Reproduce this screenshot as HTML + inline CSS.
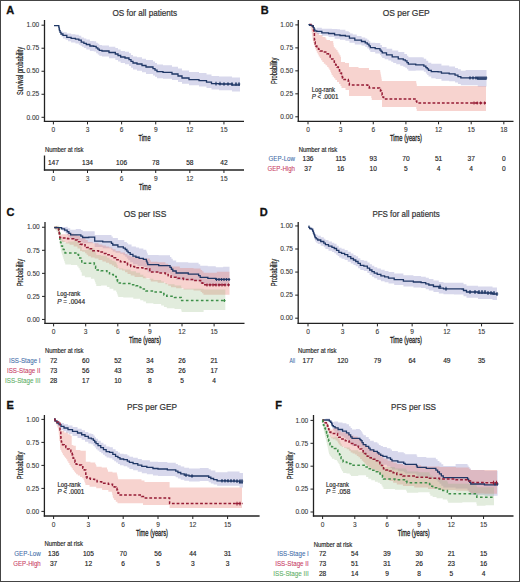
<!DOCTYPE html>
<html><head><meta charset="utf-8"><style>
html,body{margin:0;padding:0;background:#fff;}
.wrap{position:relative;width:520px;height:582px;overflow:hidden;background:#fff;}
svg text{font-family:"Liberation Sans", sans-serif;}
.frame{position:absolute;left:0;top:0;width:518px;height:580px;border:1px solid #444;}
</style></head><body><div class="wrap">
<svg width="520" height="582" viewBox="0 0 520 582" style="position:absolute;left:0;top:0">
<text x="6.30" y="14.40" font-size="11" text-anchor="start" fill="#111" stroke="#111" stroke-width="0.3" font-weight="bold">A</text>
<text x="112.40" y="15.80" font-size="9.3" text-anchor="start" fill="#333" stroke="#333" stroke-width="0.22" textLength="64.8" lengthAdjust="spacingAndGlyphs">OS for all patients</text>
<path d="M54.00,25.60 L58.70,25.60 L58.70,25.80 L58.93,25.80 L58.93,27.71 L59.38,27.71 L59.38,29.62 L59.60,29.62 L60.55,29.62 L60.55,31.42 L61.50,31.42 L62.95,31.42 L62.95,32.33 L64.40,32.33 L66.80,32.33 L66.80,33.43 L69.20,33.43 L71.10,33.43 L71.10,34.15 L73.00,34.15 L75.45,34.15 L75.45,34.80 L77.90,34.80 L78.85,34.80 L78.85,35.71 L79.80,35.71 L81.25,35.71 L81.25,37.47 L82.70,37.47 L83.90,37.47 L83.90,38.55 L86.30,38.55 L86.30,39.62 L87.50,39.62 L89.90,39.62 L89.90,40.92 L92.30,40.92 L93.75,40.92 L93.75,41.23 L95.20,41.23 L96.15,41.23 L96.15,42.66 L97.10,42.66 L97.82,42.66 L97.82,43.81 L99.28,43.81 L99.28,44.97 L100.00,44.97 L102.00,44.97 L102.00,45.53 L104.00,45.53 L109.00,45.53 L109.00,46.70 L114.00,46.70 L115.33,46.70 L115.33,48.11 L118.00,48.11 L118.00,49.52 L120.67,49.52 L120.67,50.93 L122.00,50.93 L125.00,50.93 L125.00,51.73 L128.00,51.73 L129.00,51.73 L129.00,53.33 L131.00,53.33 L131.00,54.93 L133.00,54.93 L133.00,56.53 L134.00,56.53 L137.00,56.53 L137.00,57.33 L140.00,57.33 L142.00,57.33 L142.00,58.70 L146.00,58.70 L146.00,60.07 L148.00,60.07 L152.00,60.07 L152.00,59.98 L153.00,59.98 L153.00,61.48 L155.00,61.48 L155.00,62.99 L157.00,62.99 L157.00,64.50 L158.00,64.50 L163.00,64.50 L163.00,65.18 L168.00,65.18 L172.00,65.18 L172.00,66.67 L176.00,66.67 L178.00,66.67 L178.00,68.62 L182.00,68.62 L182.00,70.58 L184.00,70.58 L189.00,70.58 L189.00,72.10 L194.00,72.10 L199.00,72.10 L199.00,73.10 L204.00,73.10 L206.50,73.10 L206.50,74.60 L211.50,74.60 L211.50,76.10 L214.00,76.10 L219.00,76.10 L219.00,76.50 L224.00,76.50 L232.00,76.50 L232.00,77.50 L240.00,77.50 L240.00,91.50 L232.00,91.50 L232.00,90.18 L224.00,90.18 L219.00,90.18 L219.00,89.58 L214.00,89.58 L211.50,89.58 L211.50,87.98 L206.50,87.98 L206.50,86.38 L204.00,86.38 L199.00,86.38 L199.00,85.18 L194.00,85.18 L189.00,85.18 L189.00,83.72 L184.00,83.72 L182.00,83.72 L182.00,81.88 L178.00,81.88 L178.00,80.03 L176.00,80.03 L172.00,80.03 L172.00,78.73 L168.00,78.73 L163.00,78.73 L163.00,78.30 L158.00,78.30 L157.00,78.30 L157.00,76.84 L155.00,76.84 L155.00,75.38 L153.00,75.38 L153.00,73.92 L152.00,73.92 L152.00,73.93 L148.00,73.93 L146.00,73.93 L146.00,72.30 L142.00,72.30 L142.00,70.67 L140.00,70.67 L137.00,70.67 L137.00,69.47 L134.00,69.47 L133.00,69.47 L133.00,67.73 L131.00,67.73 L131.00,66.00 L129.00,66.00 L129.00,64.27 L128.00,64.27 L125.00,64.27 L125.00,63.07 L122.00,63.07 L120.67,63.07 L120.67,61.48 L118.00,61.48 L118.00,59.89 L115.33,59.89 L115.33,58.30 L114.00,58.30 L109.00,58.30 L109.00,56.47 L104.00,56.47 L102.00,56.47 L102.00,55.63 L100.00,55.63 L99.28,55.63 L99.28,54.38 L97.82,54.38 L97.82,53.14 L97.10,53.14 L96.15,53.14 L96.15,51.57 L95.20,51.57 L93.75,51.57 L93.75,51.08 L92.30,51.08 L89.90,51.08 L89.90,49.38 L87.50,49.38 L86.30,49.38 L86.30,48.05 L83.90,48.05 L83.90,46.73 L82.70,46.73 L81.97,46.73 L81.97,45.71 L80.53,45.71 L80.53,44.69 L79.80,44.69 L78.85,44.69 L78.85,43.60 L77.90,43.60 L75.45,43.60 L75.45,42.45 L73.00,42.45 L71.10,42.45 L71.10,41.17 L69.20,41.17 L68.00,41.17 L68.00,39.82 L65.60,39.82 L65.60,38.47 L64.40,38.47 L62.95,38.47 L62.95,36.58 L61.50,36.58 L61.18,36.58 L61.18,34.91 L60.55,34.91 L60.55,33.25 L59.92,33.25 L59.92,31.58 L59.60,31.58 L59.45,31.58 L59.45,29.65 L59.15,29.65 L59.15,27.73 L58.85,27.73 L58.85,25.80 L58.70,25.80 L58.70,25.60 L54.00,25.60Z" fill="#6464b4" fill-opacity="0.25" stroke="none"/>
<path d="M54.00,25.60 L58.70,25.60 L58.70,25.80 L58.85,25.80 L58.85,27.40 L59.15,27.40 L59.15,29.00 L59.45,29.00 L59.45,30.60 L59.60,30.60 L60.08,30.60 L60.08,32.30 L61.02,32.30 L61.02,34.00 L61.50,34.00 L62.95,34.00 L62.95,35.40 L64.40,35.40 L66.80,35.40 L66.80,37.30 L69.20,37.30 L71.10,37.30 L71.10,38.30 L73.00,38.30 L75.45,38.30 L75.45,39.20 L77.90,39.20 L78.85,39.20 L78.85,40.20 L79.80,40.20 L81.25,40.20 L81.25,42.10 L82.70,42.10 L83.90,42.10 L83.90,43.30 L86.30,43.30 L86.30,44.50 L87.50,44.50 L89.90,44.50 L89.90,46.00 L92.30,46.00 L93.75,46.00 L93.75,46.40 L95.20,46.40 L96.15,46.40 L96.15,47.90 L97.10,47.90 L97.82,47.90 L97.82,49.10 L99.28,49.10 L99.28,50.30 L100.00,50.30 L102.00,50.30 L102.00,51.00 L104.00,51.00 L109.00,51.00 L109.00,52.50 L114.00,52.50 L115.33,52.50 L115.33,54.00 L118.00,54.00 L118.00,55.50 L120.67,55.50 L120.67,57.00 L122.00,57.00 L125.00,57.00 L125.00,58.00 L128.00,58.00 L129.00,58.00 L129.00,59.67 L131.00,59.67 L131.00,61.33 L133.00,61.33 L133.00,63.00 L134.00,63.00 L137.00,63.00 L137.00,64.00 L140.00,64.00 L142.00,64.00 L142.00,65.50 L146.00,65.50 L146.00,67.00 L148.00,67.00 L152.00,67.00 L152.00,67.00 L153.00,67.00 L153.00,68.53 L155.00,68.53 L155.00,70.07 L157.00,70.07 L157.00,71.60 L158.00,71.60 L163.00,71.60 L163.00,72.40 L168.00,72.40 L172.00,72.40 L172.00,74.00 L176.00,74.00 L178.00,74.00 L178.00,76.00 L182.00,76.00 L182.00,78.00 L184.00,78.00 L189.00,78.00 L189.00,79.60 L194.00,79.60 L199.00,79.60 L199.00,80.60 L204.00,80.60 L206.50,80.60 L206.50,82.10 L211.50,82.10 L211.50,83.60 L214.00,83.60 L219.00,83.60 L219.00,84.00 L224.00,84.00 L232.00,84.00 L232.00,85.00 L240.00,85.00" fill="none" stroke="#1f3766" stroke-width="1.3" stroke-linejoin="miter"/>
<line x1="216.00" y1="81.80" x2="216.00" y2="85.40" stroke="#1f3766" stroke-width="1.1"/>
<line x1="214.80" y1="83.60" x2="217.20" y2="83.60" stroke="#1f3766" stroke-width="1.1"/>
<line x1="220.00" y1="81.80" x2="220.00" y2="85.40" stroke="#1f3766" stroke-width="1.1"/>
<line x1="218.80" y1="83.60" x2="221.20" y2="83.60" stroke="#1f3766" stroke-width="1.1"/>
<line x1="224.00" y1="82.20" x2="224.00" y2="85.80" stroke="#1f3766" stroke-width="1.1"/>
<line x1="222.80" y1="84.00" x2="225.20" y2="84.00" stroke="#1f3766" stroke-width="1.1"/>
<line x1="228.00" y1="82.20" x2="228.00" y2="85.80" stroke="#1f3766" stroke-width="1.1"/>
<line x1="226.80" y1="84.00" x2="229.20" y2="84.00" stroke="#1f3766" stroke-width="1.1"/>
<line x1="232.00" y1="82.20" x2="232.00" y2="85.80" stroke="#1f3766" stroke-width="1.1"/>
<line x1="230.80" y1="84.00" x2="233.20" y2="84.00" stroke="#1f3766" stroke-width="1.1"/>
<line x1="236.00" y1="82.20" x2="236.00" y2="85.80" stroke="#1f3766" stroke-width="1.1"/>
<line x1="234.80" y1="84.00" x2="237.20" y2="84.00" stroke="#1f3766" stroke-width="1.1"/>
<line x1="239.00" y1="82.20" x2="239.00" y2="85.80" stroke="#1f3766" stroke-width="1.1"/>
<line x1="237.80" y1="84.00" x2="240.20" y2="84.00" stroke="#1f3766" stroke-width="1.1"/>
<line x1="44.50" y1="20.00" x2="44.50" y2="122.00" stroke="#222" stroke-width="1.3"/>
<line x1="43.90" y1="121.40" x2="244.00" y2="121.40" stroke="#222" stroke-width="1.3"/>
<line x1="41.50" y1="25.20" x2="44.50" y2="25.20" stroke="#222" stroke-width="1.0"/>
<text x="39.30" y="27.40" font-size="6.6" text-anchor="end" fill="#333" stroke="#333" stroke-width="0.08">1.00</text>
<line x1="41.50" y1="48.22" x2="44.50" y2="48.22" stroke="#222" stroke-width="1.0"/>
<text x="39.30" y="50.42" font-size="6.6" text-anchor="end" fill="#333" stroke="#333" stroke-width="0.08">0.75</text>
<line x1="41.50" y1="71.25" x2="44.50" y2="71.25" stroke="#222" stroke-width="1.0"/>
<text x="39.30" y="73.45" font-size="6.6" text-anchor="end" fill="#333" stroke="#333" stroke-width="0.08">0.50</text>
<line x1="41.50" y1="94.27" x2="44.50" y2="94.27" stroke="#222" stroke-width="1.0"/>
<text x="39.30" y="96.47" font-size="6.6" text-anchor="end" fill="#333" stroke="#333" stroke-width="0.08">0.25</text>
<line x1="41.50" y1="117.30" x2="44.50" y2="117.30" stroke="#222" stroke-width="1.0"/>
<text x="39.30" y="119.50" font-size="6.6" text-anchor="end" fill="#333" stroke="#333" stroke-width="0.08">0.00</text>
<line x1="53.40" y1="121.40" x2="53.40" y2="124.40" stroke="#222" stroke-width="1.0"/>
<text x="53.40" y="132.10" font-size="6.6" text-anchor="middle" fill="#333" stroke="#333" stroke-width="0.08">0</text>
<line x1="87.51" y1="121.40" x2="87.51" y2="124.40" stroke="#222" stroke-width="1.0"/>
<text x="87.51" y="132.10" font-size="6.6" text-anchor="middle" fill="#333" stroke="#333" stroke-width="0.08">3</text>
<line x1="121.62" y1="121.40" x2="121.62" y2="124.40" stroke="#222" stroke-width="1.0"/>
<text x="121.62" y="132.10" font-size="6.6" text-anchor="middle" fill="#333" stroke="#333" stroke-width="0.08">6</text>
<line x1="155.73" y1="121.40" x2="155.73" y2="124.40" stroke="#222" stroke-width="1.0"/>
<text x="155.73" y="132.10" font-size="6.6" text-anchor="middle" fill="#333" stroke="#333" stroke-width="0.08">9</text>
<line x1="189.84" y1="121.40" x2="189.84" y2="124.40" stroke="#222" stroke-width="1.0"/>
<text x="189.84" y="132.10" font-size="6.6" text-anchor="middle" fill="#333" stroke="#333" stroke-width="0.08">12</text>
<line x1="223.95" y1="121.40" x2="223.95" y2="124.40" stroke="#222" stroke-width="1.0"/>
<text x="223.95" y="132.10" font-size="6.6" text-anchor="middle" fill="#333" stroke="#333" stroke-width="0.08">15</text>
<text x="22.80" y="71.00" font-size="8.3" text-anchor="middle" fill="#1a1a1a" stroke="#1a1a1a" stroke-width="0.2" textLength="48" lengthAdjust="spacingAndGlyphs" transform="rotate(-90 22.80 71.00)">Survival probability</text>
<text x="144.50" y="141.00" font-size="9.2" text-anchor="middle" fill="#1a1a1a" stroke="#1a1a1a" stroke-width="0.3" textLength="12" lengthAdjust="spacingAndGlyphs">Time</text>
<text x="45.00" y="151.60" font-size="6.6" text-anchor="start" fill="#2a2a2a" stroke="#2a2a2a" stroke-width="0.18" textLength="38.5" lengthAdjust="spacingAndGlyphs">Number at risk</text>
<line x1="44.50" y1="155.50" x2="44.50" y2="170.60" stroke="#222" stroke-width="1.3"/>
<line x1="43.90" y1="170.00" x2="244.00" y2="170.00" stroke="#222" stroke-width="1.3"/>
<text x="53.40" y="165.00" font-size="6.6" text-anchor="middle" fill="#222" stroke="#222" stroke-width="0.15">147</text>
<line x1="53.40" y1="170.00" x2="53.40" y2="173.00" stroke="#222" stroke-width="1.0"/>
<text x="53.40" y="181.20" font-size="6.6" text-anchor="middle" fill="#333" stroke="#333" stroke-width="0.08">0</text>
<text x="87.51" y="165.00" font-size="6.6" text-anchor="middle" fill="#222" stroke="#222" stroke-width="0.15">134</text>
<line x1="87.51" y1="170.00" x2="87.51" y2="173.00" stroke="#222" stroke-width="1.0"/>
<text x="87.51" y="181.20" font-size="6.6" text-anchor="middle" fill="#333" stroke="#333" stroke-width="0.08">3</text>
<text x="121.62" y="165.00" font-size="6.6" text-anchor="middle" fill="#222" stroke="#222" stroke-width="0.15">106</text>
<line x1="121.62" y1="170.00" x2="121.62" y2="173.00" stroke="#222" stroke-width="1.0"/>
<text x="121.62" y="181.20" font-size="6.6" text-anchor="middle" fill="#333" stroke="#333" stroke-width="0.08">6</text>
<text x="155.73" y="165.00" font-size="6.6" text-anchor="middle" fill="#222" stroke="#222" stroke-width="0.15">78</text>
<line x1="155.73" y1="170.00" x2="155.73" y2="173.00" stroke="#222" stroke-width="1.0"/>
<text x="155.73" y="181.20" font-size="6.6" text-anchor="middle" fill="#333" stroke="#333" stroke-width="0.08">9</text>
<text x="189.84" y="165.00" font-size="6.6" text-anchor="middle" fill="#222" stroke="#222" stroke-width="0.15">58</text>
<line x1="189.84" y1="170.00" x2="189.84" y2="173.00" stroke="#222" stroke-width="1.0"/>
<text x="189.84" y="181.20" font-size="6.6" text-anchor="middle" fill="#333" stroke="#333" stroke-width="0.08">12</text>
<text x="223.95" y="165.00" font-size="6.6" text-anchor="middle" fill="#222" stroke="#222" stroke-width="0.15">42</text>
<line x1="223.95" y1="170.00" x2="223.95" y2="173.00" stroke="#222" stroke-width="1.0"/>
<text x="223.95" y="181.20" font-size="6.6" text-anchor="middle" fill="#333" stroke="#333" stroke-width="0.08">15</text>
<text x="145.00" y="189.50" font-size="9.2" text-anchor="middle" fill="#1a1a1a" stroke="#1a1a1a" stroke-width="0.3" textLength="12" lengthAdjust="spacingAndGlyphs">Time</text>
<text x="260.80" y="14.40" font-size="11" text-anchor="start" fill="#111" stroke="#111" stroke-width="0.3" font-weight="bold">B</text>
<text x="382.70" y="15.80" font-size="9.3" text-anchor="start" fill="#333" stroke="#333" stroke-width="0.22" textLength="47" lengthAdjust="spacingAndGlyphs">OS per GEP</text>
<path d="M309.00,24.40 L310.25,24.40 L310.25,26.20 L312.75,26.20 L312.75,28.00 L314.00,28.00 L314.50,28.00 L314.50,29.50 L315.50,29.50 L315.50,31.00 L316.00,31.00 L317.00,31.00 L317.00,33.00 L319.00,33.00 L319.00,35.00 L320.00,35.00 L322.50,35.00 L322.50,37.00 L325.00,37.00 L325.50,37.00 L325.50,38.50 L326.50,38.50 L326.50,40.00 L327.00,40.00 L330.00,40.00 L330.00,41.00 L333.00,41.00 L333.17,41.00 L333.17,43.00 L333.50,43.00 L333.50,45.00 L333.83,45.00 L333.83,47.00 L334.00,47.00 L334.75,47.00 L334.75,48.50 L336.25,48.50 L336.25,50.00 L337.00,50.00 L337.50,50.00 L337.50,51.75 L338.50,51.75 L338.50,53.50 L339.50,53.50 L339.50,55.25 L340.50,55.25 L340.50,57.00 L341.00,57.00 L341.00,57.00 L341.00,62.00 L345.00,62.00 L345.00,63.00 L349.00,63.00 L349.00,63.00 L349.00,67.00 L358.50,67.00 L358.50,68.00 L368.00,68.00 L369.00,68.00 L369.00,70.00 L370.00,70.00 L380.00,70.00 L380.00,70.00 L380.17,70.00 L380.17,71.83 L380.50,71.83 L380.50,73.67 L380.83,73.67 L380.83,75.50 L381.17,75.50 L381.17,77.33 L381.50,77.33 L381.50,79.17 L381.83,79.17 L381.83,81.00 L382.00,81.00 L416.00,81.00 L416.00,81.00 L416.17,81.00 L416.17,82.67 L416.50,82.67 L416.50,84.33 L416.83,84.33 L416.83,86.00 L417.00,86.00 L486.00,86.00 L486.00,86.00 L486.00,111.00 L486.00,111.00 L417.00,111.00 L416.75,111.00 L416.75,109.00 L416.25,109.00 L416.25,107.00 L416.00,107.00 L416.00,107.00 L382.00,107.00 L382.00,100.00 L382.00,100.00 L382.00,100.00 L372.00,100.00 L371.75,100.00 L371.75,98.00 L371.25,98.00 L371.25,96.00 L371.00,96.00 L371.00,96.00 L349.00,96.00 L349.00,90.00 L349.00,90.00 L345.50,90.00 L345.50,88.00 L342.00,88.00 L341.50,88.00 L341.50,86.00 L340.50,86.00 L340.50,84.00 L340.00,84.00 L339.00,84.00 L339.00,82.00 L337.00,82.00 L337.00,80.00 L336.00,80.00 L335.33,80.00 L335.33,78.33 L334.00,78.33 L334.00,76.67 L332.67,76.67 L332.67,75.00 L332.00,75.00 L331.67,75.00 L331.67,73.33 L331.00,73.33 L331.00,71.67 L330.33,71.67 L330.33,70.00 L330.00,70.00 L329.50,70.00 L329.50,68.50 L328.50,68.50 L328.50,67.00 L328.00,67.00 L327.17,67.00 L327.17,65.33 L325.50,65.33 L325.50,63.67 L323.83,63.67 L323.83,62.00 L323.00,62.00 L322.37,62.00 L322.37,60.17 L321.10,60.17 L321.10,58.33 L319.83,58.33 L319.83,56.50 L319.20,56.50 L318.72,56.50 L318.72,54.58 L317.77,54.58 L317.77,52.65 L316.82,52.65 L316.82,50.72 L315.88,50.72 L315.88,48.80 L315.40,48.80 L315.10,48.80 L315.10,46.85 L314.50,46.85 L314.50,44.90 L313.90,44.90 L313.90,42.95 L313.30,42.95 L313.30,41.00 L313.00,41.00 L312.88,41.00 L312.88,39.25 L312.62,39.25 L312.62,37.50 L312.38,37.50 L312.38,35.75 L312.12,35.75 L312.12,34.00 L312.00,34.00 L311.83,34.00 L311.83,32.00 L311.50,32.00 L311.50,30.00 L311.17,30.00 L311.17,28.00 L311.00,28.00 L310.50,28.00 L310.50,26.20 L309.50,26.20 L309.50,24.40 L309.00,24.40Z" fill="#e8786e" fill-opacity="0.33" stroke="none"/>
<path d="M308.40,24.70 L311.00,24.70 L311.00,24.83 L313.00,24.83 L313.00,25.00 L313.52,25.00 L313.52,26.87 L314.58,26.87 L314.58,28.75 L315.10,28.75 L316.80,28.75 L316.80,27.86 L318.50,27.86 L321.85,27.86 L321.85,28.79 L325.20,28.79 L331.90,28.79 L331.90,29.01 L337.30,29.01 L337.30,29.31 L340.00,29.31 L340.00,29.84 L342.70,29.84 L345.40,29.84 L345.40,31.21 L348.10,31.21 L348.78,31.21 L348.78,32.29 L350.12,32.29 L350.12,33.38 L350.80,33.38 L352.80,33.38 L352.80,34.62 L356.80,34.62 L356.80,35.88 L358.80,35.88 L361.50,35.88 L361.50,37.47 L364.20,37.47 L365.23,37.47 L365.23,38.56 L367.27,38.56 L367.27,39.65 L368.30,39.65 L368.98,39.65 L368.98,41.18 L370.32,41.18 L370.32,42.71 L371.00,42.71 L375.20,42.71 L375.20,43.09 L379.40,43.09 L380.25,43.09 L380.25,45.06 L381.95,45.06 L381.95,47.02 L382.80,47.02 L386.50,47.02 L386.50,48.67 L390.20,48.67 L392.20,48.67 L392.20,50.47 L394.20,50.47 L398.25,50.47 L398.25,52.08 L402.30,52.08 L404.30,52.08 L404.30,54.03 L406.30,54.03 L406.98,54.03 L406.98,55.64 L408.32,55.64 L408.32,57.25 L409.00,57.25 L422.50,57.25 L422.50,57.55 L423.85,57.55 L423.85,58.76 L425.20,58.76 L426.20,58.76 L426.20,60.73 L428.20,60.73 L428.20,62.70 L429.20,62.70 L431.25,62.70 L431.25,63.85 L433.30,63.85 L438.10,63.85 L438.10,63.87 L441.45,63.87 L441.45,65.44 L444.80,65.44 L449.20,65.44 L449.20,66.48 L453.60,66.48 L455.05,66.48 L455.05,67.88 L457.95,67.88 L457.95,69.29 L460.85,69.29 L460.85,70.69 L462.30,70.69 L465.65,70.69 L465.65,70.08 L469.00,70.08 L486.50,70.08 L486.50,69.80 L486.50,86.60 L477.75,86.60 L477.75,85.30 L469.00,85.30 L469.00,85.30 L462.30,85.30 L460.85,85.30 L460.85,83.94 L457.95,83.94 L457.95,82.59 L455.05,82.59 L455.05,81.23 L453.60,81.23 L449.20,81.23 L449.20,80.68 L444.80,80.68 L441.45,80.68 L441.45,79.06 L438.10,79.06 L435.70,79.06 L435.70,78.26 L433.30,78.26 L431.25,78.26 L431.25,76.45 L429.20,76.45 L428.53,76.45 L428.53,74.92 L427.20,74.92 L427.20,73.38 L425.87,73.38 L425.87,71.85 L425.20,71.85 L423.85,71.85 L423.85,70.51 L422.50,70.51 L415.75,70.51 L415.75,70.83 L409.00,70.83 L408.32,70.83 L408.32,69.28 L406.98,69.28 L406.98,67.73 L406.30,67.73 L405.30,67.73 L405.30,66.69 L403.30,66.69 L403.30,65.65 L402.30,65.65 L400.27,65.65 L400.27,64.30 L396.23,64.30 L396.23,62.96 L394.20,62.96 L393.20,62.96 L393.20,61.78 L391.20,61.78 L391.20,60.61 L390.20,60.61 L388.35,60.61 L388.35,59.29 L384.65,59.29 L384.65,57.97 L382.80,57.97 L382.23,57.97 L382.23,56.51 L381.10,56.51 L381.10,55.04 L379.97,55.04 L379.97,53.58 L379.40,53.58 L375.20,53.58 L375.20,51.95 L371.00,51.95 L370.32,51.95 L370.32,50.21 L368.98,50.21 L368.98,48.46 L368.30,48.46 L367.27,48.46 L367.27,47.03 L365.23,47.03 L365.23,45.61 L364.20,45.61 L361.50,45.61 L361.50,44.43 L358.80,44.43 L354.80,44.43 L354.80,42.63 L350.80,42.63 L349.45,42.63 L349.45,40.70 L348.10,40.70 L345.40,40.70 L345.40,39.67 L342.70,39.67 L340.00,39.67 L340.00,38.63 L337.30,38.63 L334.60,38.63 L334.60,36.99 L331.90,36.99 L328.55,36.99 L328.55,35.81 L325.20,35.81 L321.85,35.81 L321.85,33.94 L318.50,33.94 L316.80,33.94 L316.80,32.43 L315.10,32.43 L314.75,32.43 L314.75,30.62 L314.05,30.62 L314.05,28.81 L313.35,28.81 L313.35,27.00 L313.00,27.00 L312.00,27.00 L312.00,25.97 L311.00,25.97 L309.70,25.97 L309.70,24.70 L308.40,24.70Z" fill="#6464b4" fill-opacity="0.25" stroke="none"/>
<path d="M309.00,24.40 L311.00,24.40 L311.00,26.00 L313.00,26.00 L313.17,26.00 L313.17,28.00 L313.50,28.00 L313.50,30.00 L313.83,30.00 L313.83,32.00 L314.00,32.00 L314.40,32.00 L314.40,40.00 L314.67,40.00 L314.67,42.00 L315.20,42.00 L315.20,44.00 L315.73,44.00 L315.73,46.00 L316.00,46.00 L316.83,46.00 L316.83,47.67 L318.50,47.67 L318.50,49.33 L320.17,49.33 L320.17,51.00 L321.00,51.00 L323.50,51.00 L323.50,52.00 L326.00,52.00 L326.83,52.00 L326.83,53.67 L328.50,53.67 L328.50,55.33 L330.17,55.33 L330.17,57.00 L331.00,57.00 L331.67,57.00 L331.67,59.00 L333.00,59.00 L333.00,61.00 L334.33,61.00 L334.33,63.00 L335.00,63.00 L335.67,63.00 L335.67,65.00 L337.00,65.00 L337.00,67.00 L338.33,67.00 L338.33,69.00 L339.00,69.00 L339.50,69.00 L339.50,71.00 L340.50,71.00 L340.50,73.00 L341.50,73.00 L341.50,75.00 L342.00,75.00 L342.17,75.00 L342.17,76.47 L342.50,76.47 L342.50,77.93 L342.83,77.93 L342.83,79.40 L343.00,79.40 L348.00,79.40 L348.00,79.40 L348.27,79.40 L348.27,81.27 L348.80,81.27 L348.80,83.13 L349.33,83.13 L349.33,85.00 L349.60,85.00 L367.00,85.00 L367.00,85.00 L367.75,85.00 L367.75,86.50 L369.25,86.50 L369.25,88.00 L370.00,88.00 L379.00,88.00 L379.00,88.00 L379.50,88.00 L379.50,89.50 L380.50,89.50 L380.50,91.00 L381.00,91.00 L381.38,91.00 L381.38,93.00 L382.12,93.00 L382.12,95.00 L382.88,95.00 L382.88,97.00 L383.62,97.00 L383.62,99.00 L384.00,99.00 L416.00,99.00 L416.00,99.00 L416.25,99.00 L416.25,101.00 L416.75,101.00 L416.75,103.00 L417.00,103.00 L486.00,103.00 L486.00,103.00" fill="none" stroke="#961d36" stroke-width="1.5" stroke-dasharray="2.8,1.9" stroke-linejoin="miter"/>
<path d="M308.40,24.70 L309.70,24.70 L309.70,25.40 L311.00,25.40 L312.00,25.40 L312.00,26.00 L313.00,26.00 L313.35,26.00 L313.35,27.60 L314.05,27.60 L314.05,29.20 L314.75,29.20 L314.75,30.80 L315.10,30.80 L316.80,30.80 L316.80,31.40 L318.50,31.40 L321.85,31.40 L321.85,32.80 L325.20,32.80 L328.55,32.80 L328.55,33.50 L331.90,33.50 L334.60,33.50 L334.60,34.80 L337.30,34.80 L340.00,34.80 L340.00,35.50 L342.70,35.50 L345.40,35.50 L345.40,36.20 L348.10,36.20 L349.45,36.20 L349.45,38.20 L350.80,38.20 L354.80,38.20 L354.80,40.20 L358.80,40.20 L361.50,40.20 L361.50,41.50 L364.20,41.50 L365.23,41.50 L365.23,42.85 L367.27,42.85 L367.27,44.20 L368.30,44.20 L368.98,44.20 L368.98,45.90 L370.32,45.90 L370.32,47.60 L371.00,47.60 L375.20,47.60 L375.20,48.70 L379.40,48.70 L379.97,48.70 L379.97,50.07 L381.10,50.07 L381.10,51.43 L382.23,51.43 L382.23,52.80 L382.80,52.80 L386.50,52.80 L386.50,54.80 L390.20,54.80 L392.20,54.80 L392.20,56.80 L394.20,56.80 L398.25,56.80 L398.25,58.80 L402.30,58.80 L403.30,58.80 L403.30,59.85 L405.30,59.85 L405.30,60.90 L406.30,60.90 L406.98,60.90 L406.98,62.55 L408.32,62.55 L408.32,64.20 L409.00,64.20 L415.75,64.20 L415.75,64.90 L422.50,64.90 L423.85,64.90 L423.85,66.20 L425.20,66.20 L425.87,66.20 L425.87,67.57 L427.20,67.57 L427.20,68.93 L428.53,68.93 L428.53,70.30 L429.20,70.30 L431.25,70.30 L431.25,71.60 L433.30,71.60 L438.10,71.60 L438.10,71.80 L441.45,71.80 L441.45,73.20 L444.80,73.20 L449.20,73.20 L449.20,73.80 L453.60,73.80 L455.05,73.80 L455.05,75.17 L457.95,75.17 L457.95,76.53 L460.85,76.53 L460.85,77.90 L462.30,77.90 L469.00,77.90 L469.00,77.90 L477.75,77.90 L477.75,79.20 L486.50,79.20" fill="none" stroke="#1f3766" stroke-width="1.3" stroke-linejoin="miter"/>
<line x1="470.00" y1="76.30" x2="470.00" y2="79.50" stroke="#1f3766" stroke-width="1.1"/>
<line x1="468.80" y1="77.90" x2="471.20" y2="77.90" stroke="#1f3766" stroke-width="1.1"/>
<line x1="473.00" y1="76.30" x2="473.00" y2="79.50" stroke="#1f3766" stroke-width="1.1"/>
<line x1="471.80" y1="77.90" x2="474.20" y2="77.90" stroke="#1f3766" stroke-width="1.1"/>
<line x1="476.00" y1="76.30" x2="476.00" y2="79.50" stroke="#1f3766" stroke-width="1.1"/>
<line x1="474.80" y1="77.90" x2="477.20" y2="77.90" stroke="#1f3766" stroke-width="1.1"/>
<line x1="478.00" y1="76.30" x2="478.00" y2="79.50" stroke="#1f3766" stroke-width="1.1"/>
<line x1="476.80" y1="77.90" x2="479.20" y2="77.90" stroke="#1f3766" stroke-width="1.1"/>
<line x1="480.00" y1="76.30" x2="480.00" y2="79.50" stroke="#1f3766" stroke-width="1.1"/>
<line x1="478.80" y1="77.90" x2="481.20" y2="77.90" stroke="#1f3766" stroke-width="1.1"/>
<line x1="482.00" y1="76.30" x2="482.00" y2="79.50" stroke="#1f3766" stroke-width="1.1"/>
<line x1="480.80" y1="77.90" x2="483.20" y2="77.90" stroke="#1f3766" stroke-width="1.1"/>
<line x1="484.00" y1="76.30" x2="484.00" y2="79.50" stroke="#1f3766" stroke-width="1.1"/>
<line x1="482.80" y1="77.90" x2="485.20" y2="77.90" stroke="#1f3766" stroke-width="1.1"/>
<line x1="486.00" y1="76.30" x2="486.00" y2="79.50" stroke="#1f3766" stroke-width="1.1"/>
<line x1="484.80" y1="77.90" x2="487.20" y2="77.90" stroke="#1f3766" stroke-width="1.1"/>
<line x1="474.00" y1="101.40" x2="474.00" y2="104.60" stroke="#961d36" stroke-width="1.1"/>
<line x1="472.80" y1="103.00" x2="475.20" y2="103.00" stroke="#961d36" stroke-width="1.1"/>
<line x1="477.20" y1="101.40" x2="477.20" y2="104.60" stroke="#961d36" stroke-width="1.1"/>
<line x1="476.00" y1="103.00" x2="478.40" y2="103.00" stroke="#961d36" stroke-width="1.1"/>
<line x1="480.60" y1="101.40" x2="480.60" y2="104.60" stroke="#961d36" stroke-width="1.1"/>
<line x1="479.40" y1="103.00" x2="481.80" y2="103.00" stroke="#961d36" stroke-width="1.1"/>
<line x1="484.60" y1="101.40" x2="484.60" y2="104.60" stroke="#961d36" stroke-width="1.1"/>
<line x1="483.40" y1="103.00" x2="485.80" y2="103.00" stroke="#961d36" stroke-width="1.1"/>
<line x1="298.30" y1="20.00" x2="298.30" y2="121.90" stroke="#222" stroke-width="1.3"/>
<line x1="297.70" y1="121.30" x2="513.50" y2="121.30" stroke="#222" stroke-width="1.3"/>
<line x1="295.30" y1="24.90" x2="298.30" y2="24.90" stroke="#222" stroke-width="1.0"/>
<text x="293.10" y="27.10" font-size="6.6" text-anchor="end" fill="#333" stroke="#333" stroke-width="0.08">1.00</text>
<line x1="295.30" y1="47.88" x2="298.30" y2="47.88" stroke="#222" stroke-width="1.0"/>
<text x="293.10" y="50.08" font-size="6.6" text-anchor="end" fill="#333" stroke="#333" stroke-width="0.08">0.75</text>
<line x1="295.30" y1="70.85" x2="298.30" y2="70.85" stroke="#222" stroke-width="1.0"/>
<text x="293.10" y="73.05" font-size="6.6" text-anchor="end" fill="#333" stroke="#333" stroke-width="0.08">0.50</text>
<line x1="295.30" y1="93.83" x2="298.30" y2="93.83" stroke="#222" stroke-width="1.0"/>
<text x="293.10" y="96.03" font-size="6.6" text-anchor="end" fill="#333" stroke="#333" stroke-width="0.08">0.25</text>
<line x1="295.30" y1="116.80" x2="298.30" y2="116.80" stroke="#222" stroke-width="1.0"/>
<text x="293.10" y="119.00" font-size="6.6" text-anchor="end" fill="#333" stroke="#333" stroke-width="0.08">0.00</text>
<line x1="308.00" y1="121.30" x2="308.00" y2="124.30" stroke="#222" stroke-width="1.0"/>
<text x="308.00" y="132.00" font-size="6.6" text-anchor="middle" fill="#333" stroke="#333" stroke-width="0.08">0</text>
<line x1="340.64" y1="121.30" x2="340.64" y2="124.30" stroke="#222" stroke-width="1.0"/>
<text x="340.64" y="132.00" font-size="6.6" text-anchor="middle" fill="#333" stroke="#333" stroke-width="0.08">3</text>
<line x1="373.28" y1="121.30" x2="373.28" y2="124.30" stroke="#222" stroke-width="1.0"/>
<text x="373.28" y="132.00" font-size="6.6" text-anchor="middle" fill="#333" stroke="#333" stroke-width="0.08">6</text>
<line x1="405.92" y1="121.30" x2="405.92" y2="124.30" stroke="#222" stroke-width="1.0"/>
<text x="405.92" y="132.00" font-size="6.6" text-anchor="middle" fill="#333" stroke="#333" stroke-width="0.08">9</text>
<line x1="438.56" y1="121.30" x2="438.56" y2="124.30" stroke="#222" stroke-width="1.0"/>
<text x="438.56" y="132.00" font-size="6.6" text-anchor="middle" fill="#333" stroke="#333" stroke-width="0.08">12</text>
<line x1="471.20" y1="121.30" x2="471.20" y2="124.30" stroke="#222" stroke-width="1.0"/>
<text x="471.20" y="132.00" font-size="6.6" text-anchor="middle" fill="#333" stroke="#333" stroke-width="0.08">15</text>
<line x1="503.84" y1="121.30" x2="503.84" y2="124.30" stroke="#222" stroke-width="1.0"/>
<text x="503.84" y="132.00" font-size="6.6" text-anchor="middle" fill="#333" stroke="#333" stroke-width="0.08">18</text>
<text x="276.80" y="70.80" font-size="8.3" text-anchor="middle" fill="#1a1a1a" stroke="#1a1a1a" stroke-width="0.2" textLength="26.5" lengthAdjust="spacingAndGlyphs" transform="rotate(-90 276.80 70.80)">Probability</text>
<text x="406.00" y="140.80" font-size="9.2" text-anchor="middle" fill="#1a1a1a" stroke="#1a1a1a" stroke-width="0.3" textLength="32" lengthAdjust="spacingAndGlyphs">Time (years)</text>
<text x="311.80" y="91.60" font-size="6.6" text-anchor="start" fill="#2a2a2a" stroke="#2a2a2a" stroke-width="0.18" textLength="23.2" lengthAdjust="spacingAndGlyphs">Log-rank</text>
<text x="311.80" y="98.60" font-size="6.6" text-anchor="start" fill="#2a2a2a" stroke="#2a2a2a" stroke-width="0.18" textLength="26.5" lengthAdjust="spacingAndGlyphs"><tspan font-style="italic">P</tspan> &lt; .0001</text>
<text x="298.75" y="151.70" font-size="6.6" text-anchor="start" fill="#2a2a2a" stroke="#2a2a2a" stroke-width="0.18" textLength="38.5" lengthAdjust="spacingAndGlyphs">Number at risk</text>
<text x="308.00" y="161.00" font-size="6.6" text-anchor="middle" fill="#222" stroke="#222" stroke-width="0.15">136</text>
<text x="340.64" y="161.00" font-size="6.6" text-anchor="middle" fill="#222" stroke="#222" stroke-width="0.15">115</text>
<text x="373.28" y="161.00" font-size="6.6" text-anchor="middle" fill="#222" stroke="#222" stroke-width="0.15">93</text>
<text x="405.92" y="161.00" font-size="6.6" text-anchor="middle" fill="#222" stroke="#222" stroke-width="0.15">70</text>
<text x="438.56" y="161.00" font-size="6.6" text-anchor="middle" fill="#222" stroke="#222" stroke-width="0.15">51</text>
<text x="471.20" y="161.00" font-size="6.6" text-anchor="middle" fill="#222" stroke="#222" stroke-width="0.15">37</text>
<text x="503.84" y="161.00" font-size="6.6" text-anchor="middle" fill="#222" stroke="#222" stroke-width="0.15">0</text>
<text x="308.00" y="171.00" font-size="6.6" text-anchor="middle" fill="#222" stroke="#222" stroke-width="0.15">37</text>
<text x="340.64" y="171.00" font-size="6.6" text-anchor="middle" fill="#222" stroke="#222" stroke-width="0.15">16</text>
<text x="373.28" y="171.00" font-size="6.6" text-anchor="middle" fill="#222" stroke="#222" stroke-width="0.15">10</text>
<text x="405.92" y="171.00" font-size="6.6" text-anchor="middle" fill="#222" stroke="#222" stroke-width="0.15">5</text>
<text x="438.56" y="171.00" font-size="6.6" text-anchor="middle" fill="#222" stroke="#222" stroke-width="0.15">4</text>
<text x="471.20" y="171.00" font-size="6.6" text-anchor="middle" fill="#222" stroke="#222" stroke-width="0.15">4</text>
<text x="503.84" y="171.00" font-size="6.6" text-anchor="middle" fill="#222" stroke="#222" stroke-width="0.15">0</text>
<text x="295.00" y="161.00" font-size="6.6" text-anchor="end" fill="#416ca8" stroke="#416ca8" stroke-width="0.08" textLength="26.5" lengthAdjust="spacingAndGlyphs">GEP-Low</text>
<text x="295.00" y="171.00" font-size="6.6" text-anchor="end" fill="#c83c64" stroke="#c83c64" stroke-width="0.08" textLength="27.5" lengthAdjust="spacingAndGlyphs">GEP-High</text>
<text x="6.50" y="216.00" font-size="11" text-anchor="start" fill="#111" stroke="#111" stroke-width="0.3" font-weight="bold">C</text>
<text x="123.70" y="217.30" font-size="9.3" text-anchor="start" fill="#333" stroke="#333" stroke-width="0.22" textLength="42.6" lengthAdjust="spacingAndGlyphs">OS per ISS</text>
<path d="M54.30,227.57 L57.30,227.57 L57.30,226.95 L60.30,226.95 L62.90,226.95 L62.90,226.95 L66.30,226.95 L66.30,226.79 L67.60,226.79 L67.60,228.27 L70.20,228.27 L70.20,229.76 L71.50,229.76 L75.75,229.76 L75.75,228.97 L80.00,228.97 L80.88,228.97 L80.88,230.10 L82.62,230.10 L82.62,231.24 L83.50,231.24 L94.00,231.24 L94.00,231.16 L94.70,231.16 L94.70,235.09 L110.80,235.09 L110.80,234.92 L111.45,234.92 L111.45,236.46 L112.75,236.46 L112.75,238.00 L113.40,238.00 L117.90,238.00 L117.90,239.90 L122.40,239.90 L124.30,239.90 L124.30,241.90 L126.20,241.90 L126.85,241.90 L126.85,243.15 L128.15,243.15 L128.15,244.39 L128.80,244.39 L131.55,244.39 L131.55,246.39 L134.30,246.39 L135.90,246.39 L135.90,247.44 L139.10,247.44 L139.10,248.49 L140.70,248.49 L143.35,248.49 L143.35,249.67 L146.00,249.67 L146.35,249.67 L146.35,251.46 L147.05,251.46 L147.05,253.25 L147.75,253.25 L147.75,255.04 L148.10,255.04 L158.70,255.04 L158.70,255.35 L169.30,255.35 L170.00,255.35 L170.00,257.06 L171.40,257.06 L171.40,258.76 L172.80,258.76 L172.80,260.47 L173.50,260.47 L176.15,260.47 L176.15,262.26 L178.80,262.26 L188.30,262.26 L188.30,262.66 L197.80,262.66 L198.60,262.66 L198.60,264.20 L200.20,264.20 L200.20,265.74 L201.00,265.74 L207.85,265.74 L207.85,266.30 L214.70,266.30 L215.80,266.30 L215.80,267.21 L216.90,267.21 L223.20,267.21 L223.20,266.72 L229.50,266.72 L229.50,285.41 L229.50,285.63 L216.90,285.63 L215.80,285.63 L215.80,284.67 L214.70,284.67 L207.85,284.67 L207.85,283.82 L201.00,283.82 L200.20,283.82 L200.20,282.25 L198.60,282.25 L198.60,280.68 L197.80,280.68 L188.30,280.68 L188.30,279.93 L178.80,279.93 L176.15,279.93 L176.15,278.03 L173.50,278.03 L172.80,278.03 L172.80,276.29 L171.40,276.29 L171.40,274.55 L170.00,274.55 L170.00,272.81 L169.30,272.81 L158.70,272.81 L158.70,272.16 L148.10,272.16 L147.75,272.16 L147.75,270.42 L147.05,270.42 L147.05,268.68 L146.35,268.68 L146.35,266.93 L146.00,266.93 L143.35,266.93 L143.35,266.11 L140.70,266.11 L137.50,266.11 L137.50,264.14 L134.30,264.14 L132.93,264.14 L132.93,262.14 L130.18,262.14 L130.18,260.14 L128.80,260.14 L128.15,260.14 L128.15,258.42 L126.85,258.42 L126.85,256.70 L126.20,256.70 L125.25,256.70 L125.25,255.26 L123.35,255.26 L123.35,253.83 L122.40,253.83 L120.15,253.83 L120.15,252.67 L115.65,252.67 L115.65,251.52 L113.40,251.52 L112.75,251.52 L112.75,249.88 L111.45,249.88 L111.45,248.24 L110.80,248.24 L102.75,248.24 L102.75,247.10 L94.70,247.10 L94.70,243.20 L94.00,243.20 L94.00,243.35 L83.50,243.35 L82.62,243.35 L82.62,241.88 L80.88,241.88 L80.88,240.40 L80.00,240.40 L75.75,240.40 L75.75,239.55 L71.50,239.55 L70.85,239.55 L70.85,238.01 L69.55,238.01 L69.55,236.46 L68.25,236.46 L68.25,234.92 L66.95,234.92 L66.95,233.38 L66.30,233.38 L65.45,233.38 L65.45,232.11 L63.75,232.11 L63.75,230.85 L62.90,230.85 L62.25,230.85 L62.25,229.55 L60.95,229.55 L60.95,228.25 L60.30,228.25 L57.30,228.25 L57.30,227.62 L54.30,227.62Z" fill="#6464b4" fill-opacity="0.25" stroke="none"/>
<path d="M54.30,227.45 L56.45,227.45 L56.45,226.60 L58.60,226.60 L58.76,226.60 L58.76,228.59 L59.09,228.59 L59.09,230.57 L59.41,230.57 L59.41,232.56 L59.74,232.56 L59.74,234.55 L59.90,234.55 L61.80,234.55 L61.80,234.16 L63.70,234.16 L67.60,234.16 L67.60,233.55 L71.50,233.55 L73.65,233.55 L73.65,234.42 L75.80,234.42 L77.50,234.42 L77.50,235.78 L79.20,235.78 L80.00,235.78 L80.00,238.30 L84.30,238.30 L84.30,238.27 L85.45,238.27 L85.45,240.09 L87.75,240.09 L87.75,241.91 L88.90,241.91 L92.75,241.91 L92.75,243.37 L96.60,243.37 L98.52,243.37 L98.52,244.41 L102.38,244.41 L102.38,245.46 L104.30,245.46 L105.92,245.46 L105.92,246.50 L109.17,246.50 L109.17,247.53 L110.80,247.53 L112.40,247.53 L112.40,249.27 L115.60,249.27 L115.60,251.01 L117.20,251.01 L120.45,251.01 L120.45,252.48 L123.70,252.48 L124.98,252.48 L124.98,253.98 L127.53,253.98 L127.53,255.47 L128.80,255.47 L130.73,255.47 L130.73,256.75 L134.57,256.75 L134.57,258.03 L136.50,258.03 L142.85,258.03 L142.85,258.62 L149.20,258.62 L149.72,258.62 L149.72,260.19 L150.78,260.19 L150.78,261.76 L151.30,261.76 L157.65,261.76 L157.65,262.35 L164.00,262.35 L165.40,262.35 L165.40,263.70 L168.20,263.70 L168.20,265.04 L171.00,265.04 L171.00,266.38 L172.40,266.38 L179.80,266.38 L179.80,267.96 L187.20,267.96 L193.55,267.96 L193.55,268.59 L199.90,268.59 L200.62,268.59 L200.62,269.94 L202.05,269.94 L202.05,271.29 L203.48,271.29 L203.48,272.64 L204.20,272.64 L216.85,272.64 L216.85,271.72 L229.50,271.72 L229.50,294.70 L229.50,294.70 L204.20,294.70 L203.48,294.70 L203.48,293.30 L202.05,293.30 L202.05,291.90 L200.62,291.90 L200.62,290.50 L199.90,290.50 L193.55,290.50 L193.55,289.40 L187.20,289.40 L183.50,289.40 L183.50,288.32 L176.10,288.32 L176.10,287.24 L172.40,287.24 L171.00,287.24 L171.00,285.75 L168.20,285.75 L168.20,284.26 L165.40,284.26 L165.40,282.77 L164.00,282.77 L157.65,282.77 L157.65,281.50 L151.30,281.50 L150.78,281.50 L150.78,279.87 L149.72,279.87 L149.72,278.25 L149.20,278.25 L142.85,278.25 L142.85,276.98 L136.50,276.98 L134.57,276.98 L134.57,275.50 L130.73,275.50 L130.73,274.02 L128.80,274.02 L127.53,274.02 L127.53,272.27 L124.98,272.27 L124.98,270.53 L123.70,270.53 L122.08,270.53 L122.08,269.45 L118.83,269.45 L118.83,268.37 L117.20,268.37 L116.13,268.37 L116.13,266.99 L114.00,266.99 L114.00,265.61 L111.87,265.61 L111.87,264.22 L110.80,264.22 L109.17,264.22 L109.17,262.84 L105.92,262.84 L105.92,261.46 L104.30,261.46 L102.38,261.46 L102.38,260.01 L98.52,260.01 L98.52,258.56 L96.60,258.56 L94.67,258.56 L94.67,257.39 L90.83,257.39 L90.83,256.22 L88.90,256.22 L88.13,256.22 L88.13,254.74 L86.60,254.74 L86.60,253.25 L85.07,253.25 L85.07,251.77 L84.30,251.77 L82.15,251.77 L82.15,251.05 L80.00,251.05 L80.00,248.39 L79.20,248.39 L77.50,248.39 L77.50,246.44 L75.80,246.44 L73.65,246.44 L73.65,244.81 L71.50,244.81 L69.55,244.81 L69.55,243.41 L65.65,243.41 L65.65,242.01 L63.70,242.01 L61.80,242.01 L61.80,240.45 L59.90,240.45 L59.77,240.45 L59.77,238.60 L59.51,238.60 L59.51,236.75 L59.25,236.75 L59.25,234.90 L58.99,234.90 L58.99,233.05 L58.73,233.05 L58.73,231.20 L58.60,231.20 L57.52,231.20 L57.52,229.48 L55.38,229.48 L55.38,227.75 L54.30,227.75Z" fill="#e8786e" fill-opacity="0.33" stroke="none"/>
<path d="M54.30,227.40 L56.45,227.40 L56.45,225.83 L58.60,225.83 L59.40,225.83 L59.40,229.60 L59.90,229.60 L59.90,235.27 L60.23,235.27 L60.23,236.88 L60.88,236.88 L60.88,238.50 L61.20,238.50 L61.83,238.50 L61.83,239.65 L63.08,239.65 L63.08,240.80 L63.70,240.80 L64.60,240.80 L64.60,242.40 L65.50,242.40 L68.28,242.40 L68.28,241.39 L73.82,241.39 L73.82,240.39 L76.60,240.39 L77.25,240.39 L77.25,241.90 L78.55,241.90 L78.55,243.41 L79.20,243.41 L79.72,243.41 L79.72,245.02 L80.78,245.02 L80.78,246.63 L81.30,246.63 L81.80,246.63 L81.80,249.96 L87.90,249.96 L87.90,248.13 L94.00,248.13 L94.33,248.13 L94.33,249.67 L94.97,249.67 L94.97,251.20 L95.30,251.20 L95.62,251.20 L95.62,253.15 L96.27,253.15 L96.27,255.10 L96.60,255.10 L101.10,255.10 L101.10,255.70 L105.60,255.70 L106.90,255.70 L106.90,257.65 L109.50,257.65 L109.50,259.60 L110.80,259.60 L112.08,259.60 L112.08,260.67 L114.62,260.67 L114.62,261.74 L115.90,261.74 L116.23,261.74 L116.23,263.41 L116.88,263.41 L116.88,265.07 L117.53,265.07 L117.53,266.74 L118.17,266.74 L118.17,268.41 L118.50,268.41 L123.25,268.41 L123.25,269.50 L128.00,269.50 L130.65,269.50 L130.65,271.13 L135.95,271.13 L135.95,272.76 L138.60,272.76 L140.18,272.76 L140.18,274.65 L143.32,274.65 L143.32,276.54 L144.90,276.54 L145.43,276.54 L145.43,277.63 L146.47,277.63 L146.47,278.73 L147.00,278.73 L153.35,278.73 L153.35,280.10 L159.70,280.10 L161.12,280.10 L161.12,281.50 L163.95,281.50 L163.95,282.90 L166.78,282.90 L166.78,284.30 L168.20,284.30 L174.55,284.30 L174.55,285.60 L180.90,285.60 L181.15,285.60 L181.15,287.21 L181.65,287.21 L181.65,288.82 L181.90,288.82 L203.60,288.82 L203.60,289.60 L225.30,289.60 L225.30,310.10 L203.60,310.10 L203.60,312.06 L181.90,312.06 L181.65,312.06 L181.65,310.48 L181.15,310.48 L181.15,308.90 L180.90,308.90 L174.55,308.90 L174.55,308.30 L168.20,308.30 L166.78,308.30 L166.78,306.90 L163.95,306.90 L163.95,305.50 L161.12,305.50 L161.12,304.10 L159.70,304.10 L153.35,304.10 L153.35,303.27 L147.00,303.27 L145.95,303.27 L145.95,301.46 L144.90,301.46 L143.32,301.46 L143.32,300.15 L140.18,300.15 L140.18,298.84 L138.60,298.84 L133.30,298.84 L133.30,297.50 L128.00,297.50 L123.25,297.50 L123.25,297.00 L118.50,297.00 L118.17,297.00 L118.17,295.38 L117.53,295.38 L117.53,293.75 L116.88,293.75 L116.88,292.12 L116.23,292.12 L116.23,290.50 L115.90,290.50 L113.35,290.50 L113.35,288.74 L110.80,288.74 L109.50,288.74 L109.50,287.10 L106.90,287.10 L106.90,285.45 L105.60,285.45 L101.10,285.45 L101.10,285.91 L96.60,285.91 L96.27,285.91 L96.27,284.04 L95.62,284.04 L95.62,282.16 L95.30,282.16 L94.97,282.16 L94.97,280.45 L94.33,280.45 L94.33,278.73 L94.00,278.73 L90.95,278.73 L90.95,277.21 L84.85,277.21 L84.85,275.68 L81.80,275.68 L81.80,272.15 L81.30,272.15 L80.78,272.15 L80.78,270.22 L79.72,270.22 L79.72,268.30 L79.20,268.30 L78.55,268.30 L78.55,266.60 L77.25,266.60 L77.25,264.90 L76.60,264.90 L71.05,264.90 L71.05,264.40 L65.50,264.40 L65.20,264.40 L65.20,262.67 L64.60,262.67 L64.60,260.93 L64.00,260.93 L64.00,259.20 L63.70,259.20 L63.39,259.20 L63.39,257.27 L62.76,257.27 L62.76,255.35 L62.14,255.35 L62.14,253.43 L61.51,253.43 L61.51,251.50 L61.20,251.50 L61.04,251.50 L61.04,249.90 L60.71,249.90 L60.71,248.30 L60.39,248.30 L60.39,246.70 L60.06,246.70 L60.06,245.10 L59.90,245.10 L59.90,238.60 L59.40,238.60 L59.40,233.50 L58.60,233.50 L57.88,233.50 L57.88,231.63 L56.45,231.63 L56.45,229.77 L55.02,229.77 L55.02,227.90 L54.30,227.90Z" fill="#8cb478" fill-opacity="0.25" stroke="none"/>
<path d="M54.30,227.60 L56.45,227.60 L56.45,228.90 L58.60,228.90 L59.40,228.90 L59.40,233.20 L59.90,233.20 L59.90,239.20 L60.12,239.20 L60.12,240.90 L60.55,240.90 L60.55,242.60 L60.98,242.60 L60.98,244.30 L61.20,244.30 L61.62,244.30 L61.62,246.03 L62.45,246.03 L62.45,247.77 L63.28,247.77 L63.28,249.50 L63.70,249.50 L64.15,249.50 L64.15,251.20 L65.05,251.20 L65.05,252.90 L65.50,252.90 L76.60,252.90 L76.60,252.90 L77.25,252.90 L77.25,254.60 L78.55,254.60 L78.55,256.30 L79.20,256.30 L79.72,256.30 L79.72,258.05 L80.78,258.05 L80.78,259.80 L81.30,259.80 L81.80,259.80 L81.80,263.20 L94.00,263.20 L94.00,263.00 L94.33,263.00 L94.33,264.60 L94.97,264.60 L94.97,266.20 L95.30,266.20 L95.62,266.20 L95.62,268.15 L96.27,268.15 L96.27,270.10 L96.60,270.10 L101.10,270.10 L101.10,270.70 L105.60,270.70 L106.90,270.70 L106.90,272.65 L109.50,272.65 L109.50,274.60 L110.80,274.60 L113.35,274.60 L113.35,276.50 L115.90,276.50 L116.23,276.50 L116.23,278.12 L116.88,278.12 L116.88,279.75 L117.53,279.75 L117.53,281.38 L118.17,281.38 L118.17,283.00 L118.50,283.00 L123.25,283.00 L123.25,283.50 L128.00,283.50 L130.65,283.50 L130.65,284.65 L135.95,284.65 L135.95,285.80 L138.60,285.80 L140.18,285.80 L140.18,287.40 L143.32,287.40 L143.32,289.00 L144.90,289.00 L145.95,289.00 L145.95,291.00 L147.00,291.00 L153.35,291.00 L153.35,292.10 L159.70,292.10 L161.12,292.10 L161.12,293.50 L163.95,293.50 L163.95,294.90 L166.78,294.90 L166.78,296.30 L168.20,296.30 L174.55,296.30 L174.55,297.40 L180.90,297.40 L181.15,297.40 L181.15,299.00 L181.65,299.00 L181.65,300.60 L181.90,300.60 L225.30,300.60 L225.30,300.60" fill="none" stroke="#3f904a" stroke-width="1.5" stroke-dasharray="2.6,2.4" stroke-linejoin="miter"/>
<path d="M54.30,227.60 L56.45,227.60 L56.45,228.90 L58.60,228.90 L58.73,228.90 L58.73,230.62 L58.99,230.62 L58.99,232.34 L59.25,232.34 L59.25,234.06 L59.51,234.06 L59.51,235.78 L59.77,235.78 L59.77,237.50 L59.90,237.50 L61.80,237.50 L61.80,237.90 L63.70,237.90 L67.60,237.90 L67.60,238.70 L71.50,238.70 L73.65,238.70 L73.65,240.00 L75.80,240.00 L77.50,240.00 L77.50,241.70 L79.20,241.70 L80.00,241.70 L80.00,244.30 L82.15,244.30 L82.15,244.70 L84.30,244.70 L85.07,244.70 L85.07,246.07 L86.60,246.07 L86.60,247.43 L88.13,247.43 L88.13,248.80 L88.90,248.80 L92.75,248.80 L92.75,250.80 L96.60,250.80 L98.52,250.80 L98.52,252.10 L102.38,252.10 L102.38,253.40 L104.30,253.40 L105.92,253.40 L105.92,254.65 L109.17,254.65 L109.17,255.90 L110.80,255.90 L112.40,255.90 L112.40,257.85 L115.60,257.85 L115.60,259.80 L117.20,259.80 L120.45,259.80 L120.45,261.70 L123.70,261.70 L124.98,261.70 L124.98,263.35 L127.53,263.35 L127.53,265.00 L128.80,265.00 L130.73,265.00 L130.73,266.40 L134.57,266.40 L134.57,267.80 L136.50,267.80 L142.85,267.80 L142.85,268.80 L149.20,268.80 L149.72,268.80 L149.72,270.40 L150.78,270.40 L150.78,272.00 L151.30,272.00 L157.65,272.00 L157.65,273.00 L164.00,273.00 L165.40,273.00 L165.40,274.43 L168.20,274.43 L168.20,275.87 L171.00,275.87 L171.00,277.30 L172.40,277.30 L176.10,277.30 L176.10,278.35 L183.50,278.35 L183.50,279.40 L187.20,279.40 L193.55,279.40 L193.55,280.50 L199.90,280.50 L200.62,280.50 L200.62,281.90 L202.05,281.90 L202.05,283.30 L203.48,283.30 L203.48,284.70 L204.20,284.70 L229.50,284.70 L229.50,284.70" fill="none" stroke="#961d36" stroke-width="1.5" stroke-dasharray="2.8,1.9" stroke-linejoin="miter"/>
<path d="M54.30,227.60 L60.30,227.60 L60.30,227.60 L61.60,227.60 L61.60,228.90 L62.90,228.90 L64.60,228.90 L64.60,230.20 L66.30,230.20 L67.17,230.20 L67.17,231.77 L68.90,231.77 L68.90,233.33 L70.63,233.33 L70.63,234.90 L71.50,234.90 L80.00,234.90 L80.00,234.90 L80.88,234.90 L80.88,236.20 L82.62,236.20 L82.62,237.50 L83.50,237.50 L88.75,237.50 L88.75,237.20 L94.00,237.20 L94.70,237.20 L94.70,241.10 L102.75,241.10 L102.75,241.80 L110.80,241.80 L111.45,241.80 L111.45,243.40 L112.75,243.40 L112.75,245.00 L113.40,245.00 L117.90,245.00 L117.90,246.90 L122.40,246.90 L123.35,246.90 L123.35,248.20 L125.25,248.20 L125.25,249.50 L126.20,249.50 L126.85,249.50 L126.85,251.10 L128.15,251.10 L128.15,252.70 L128.80,252.70 L130.18,252.70 L130.18,254.45 L132.93,254.45 L132.93,256.20 L134.30,256.20 L135.90,256.20 L135.90,257.25 L139.10,257.25 L139.10,258.30 L140.70,258.30 L143.35,258.30 L143.35,259.30 L146.00,259.30 L146.35,259.30 L146.35,261.07 L147.05,261.07 L147.05,262.83 L147.75,262.83 L147.75,264.60 L148.10,264.60 L158.70,264.60 L158.70,265.70 L169.30,265.70 L170.00,265.70 L170.00,267.47 L171.40,267.47 L171.40,269.23 L172.80,269.23 L172.80,271.00 L173.50,271.00 L176.15,271.00 L176.15,273.00 L178.80,273.00 L188.30,273.00 L188.30,274.10 L197.80,274.10 L198.60,274.10 L198.60,275.70 L200.20,275.70 L200.20,277.30 L201.00,277.30 L207.85,277.30 L207.85,278.40 L214.70,278.40 L215.80,278.40 L215.80,279.40 L216.90,279.40 L229.50,279.40 L229.50,279.40" fill="none" stroke="#1f3766" stroke-width="1.3" stroke-linejoin="miter"/>
<line x1="216.50" y1="278.10" x2="216.50" y2="280.90" stroke="#1f3766" stroke-width="1.1"/>
<line x1="215.30" y1="279.50" x2="217.70" y2="279.50" stroke="#1f3766" stroke-width="1.1"/>
<line x1="219.00" y1="278.10" x2="219.00" y2="280.90" stroke="#1f3766" stroke-width="1.1"/>
<line x1="217.80" y1="279.50" x2="220.20" y2="279.50" stroke="#1f3766" stroke-width="1.1"/>
<line x1="221.50" y1="278.10" x2="221.50" y2="280.90" stroke="#1f3766" stroke-width="1.1"/>
<line x1="220.30" y1="279.50" x2="222.70" y2="279.50" stroke="#1f3766" stroke-width="1.1"/>
<line x1="224.00" y1="278.10" x2="224.00" y2="280.90" stroke="#1f3766" stroke-width="1.1"/>
<line x1="222.80" y1="279.50" x2="225.20" y2="279.50" stroke="#1f3766" stroke-width="1.1"/>
<line x1="226.50" y1="278.10" x2="226.50" y2="280.90" stroke="#1f3766" stroke-width="1.1"/>
<line x1="225.30" y1="279.50" x2="227.70" y2="279.50" stroke="#1f3766" stroke-width="1.1"/>
<line x1="229.00" y1="278.10" x2="229.00" y2="280.90" stroke="#1f3766" stroke-width="1.1"/>
<line x1="227.80" y1="279.50" x2="230.20" y2="279.50" stroke="#1f3766" stroke-width="1.1"/>
<line x1="207.00" y1="283.40" x2="207.00" y2="286.40" stroke="#961d36" stroke-width="1.1"/>
<line x1="205.80" y1="284.90" x2="208.20" y2="284.90" stroke="#961d36" stroke-width="1.1"/>
<line x1="210.00" y1="283.40" x2="210.00" y2="286.40" stroke="#961d36" stroke-width="1.1"/>
<line x1="208.80" y1="284.90" x2="211.20" y2="284.90" stroke="#961d36" stroke-width="1.1"/>
<line x1="213.00" y1="283.40" x2="213.00" y2="286.40" stroke="#961d36" stroke-width="1.1"/>
<line x1="211.80" y1="284.90" x2="214.20" y2="284.90" stroke="#961d36" stroke-width="1.1"/>
<line x1="216.00" y1="283.40" x2="216.00" y2="286.40" stroke="#961d36" stroke-width="1.1"/>
<line x1="214.80" y1="284.90" x2="217.20" y2="284.90" stroke="#961d36" stroke-width="1.1"/>
<line x1="219.00" y1="283.40" x2="219.00" y2="286.40" stroke="#961d36" stroke-width="1.1"/>
<line x1="217.80" y1="284.90" x2="220.20" y2="284.90" stroke="#961d36" stroke-width="1.1"/>
<line x1="222.00" y1="283.40" x2="222.00" y2="286.40" stroke="#961d36" stroke-width="1.1"/>
<line x1="220.80" y1="284.90" x2="223.20" y2="284.90" stroke="#961d36" stroke-width="1.1"/>
<line x1="225.00" y1="283.40" x2="225.00" y2="286.40" stroke="#961d36" stroke-width="1.1"/>
<line x1="223.80" y1="284.90" x2="226.20" y2="284.90" stroke="#961d36" stroke-width="1.1"/>
<line x1="228.50" y1="283.40" x2="228.50" y2="286.40" stroke="#961d36" stroke-width="1.1"/>
<line x1="227.30" y1="284.90" x2="229.70" y2="284.90" stroke="#961d36" stroke-width="1.1"/>
<line x1="224.40" y1="299.10" x2="224.40" y2="302.10" stroke="#3f904a" stroke-width="1.1"/>
<line x1="223.20" y1="300.60" x2="225.60" y2="300.60" stroke="#3f904a" stroke-width="1.1"/>
<line x1="45.00" y1="222.00" x2="45.00" y2="324.00" stroke="#222" stroke-width="1.3"/>
<line x1="44.40" y1="323.40" x2="244.50" y2="323.40" stroke="#222" stroke-width="1.3"/>
<line x1="42.00" y1="227.25" x2="45.00" y2="227.25" stroke="#222" stroke-width="1.0"/>
<text x="39.80" y="229.45" font-size="6.6" text-anchor="end" fill="#333" stroke="#333" stroke-width="0.08">1.00</text>
<line x1="42.00" y1="250.30" x2="45.00" y2="250.30" stroke="#222" stroke-width="1.0"/>
<text x="39.80" y="252.50" font-size="6.6" text-anchor="end" fill="#333" stroke="#333" stroke-width="0.08">0.75</text>
<line x1="42.00" y1="273.35" x2="45.00" y2="273.35" stroke="#222" stroke-width="1.0"/>
<text x="39.80" y="275.55" font-size="6.6" text-anchor="end" fill="#333" stroke="#333" stroke-width="0.08">0.50</text>
<line x1="42.00" y1="296.40" x2="45.00" y2="296.40" stroke="#222" stroke-width="1.0"/>
<text x="39.80" y="298.60" font-size="6.6" text-anchor="end" fill="#333" stroke="#333" stroke-width="0.08">0.25</text>
<line x1="42.00" y1="319.45" x2="45.00" y2="319.45" stroke="#222" stroke-width="1.0"/>
<text x="39.80" y="321.65" font-size="6.6" text-anchor="end" fill="#333" stroke="#333" stroke-width="0.08">0.00</text>
<line x1="53.60" y1="323.40" x2="53.60" y2="326.40" stroke="#222" stroke-width="1.0"/>
<text x="53.60" y="334.10" font-size="6.6" text-anchor="middle" fill="#333" stroke="#333" stroke-width="0.08">0</text>
<line x1="85.70" y1="323.40" x2="85.70" y2="326.40" stroke="#222" stroke-width="1.0"/>
<text x="85.70" y="334.10" font-size="6.6" text-anchor="middle" fill="#333" stroke="#333" stroke-width="0.08">3</text>
<line x1="117.80" y1="323.40" x2="117.80" y2="326.40" stroke="#222" stroke-width="1.0"/>
<text x="117.80" y="334.10" font-size="6.6" text-anchor="middle" fill="#333" stroke="#333" stroke-width="0.08">6</text>
<line x1="149.90" y1="323.40" x2="149.90" y2="326.40" stroke="#222" stroke-width="1.0"/>
<text x="149.90" y="334.10" font-size="6.6" text-anchor="middle" fill="#333" stroke="#333" stroke-width="0.08">9</text>
<line x1="182.00" y1="323.40" x2="182.00" y2="326.40" stroke="#222" stroke-width="1.0"/>
<text x="182.00" y="334.10" font-size="6.6" text-anchor="middle" fill="#333" stroke="#333" stroke-width="0.08">12</text>
<line x1="214.10" y1="323.40" x2="214.10" y2="326.40" stroke="#222" stroke-width="1.0"/>
<text x="214.10" y="334.10" font-size="6.6" text-anchor="middle" fill="#333" stroke="#333" stroke-width="0.08">15</text>
<text x="22.80" y="272.60" font-size="8.3" text-anchor="middle" fill="#1a1a1a" stroke="#1a1a1a" stroke-width="0.2" textLength="27.5" lengthAdjust="spacingAndGlyphs" transform="rotate(-90 22.80 272.60)">Probability</text>
<text x="145.00" y="342.70" font-size="9.2" text-anchor="middle" fill="#1a1a1a" stroke="#1a1a1a" stroke-width="0.3" textLength="32" lengthAdjust="spacingAndGlyphs">Time (years)</text>
<text x="57.00" y="296.40" font-size="6.6" text-anchor="start" fill="#2a2a2a" stroke="#2a2a2a" stroke-width="0.18" textLength="23.3" lengthAdjust="spacingAndGlyphs">Log-rank</text>
<text x="57.20" y="303.50" font-size="6.6" text-anchor="start" fill="#2a2a2a" stroke="#2a2a2a" stroke-width="0.18" textLength="27.8" lengthAdjust="spacingAndGlyphs"><tspan font-style="italic">P</tspan> = .0044</text>
<text x="45.00" y="353.20" font-size="6.6" text-anchor="start" fill="#2a2a2a" stroke="#2a2a2a" stroke-width="0.18" textLength="38.5" lengthAdjust="spacingAndGlyphs">Number at risk</text>
<text x="53.60" y="363.30" font-size="6.6" text-anchor="middle" fill="#222" stroke="#222" stroke-width="0.15">72</text>
<text x="85.70" y="363.30" font-size="6.6" text-anchor="middle" fill="#222" stroke="#222" stroke-width="0.15">60</text>
<text x="117.80" y="363.30" font-size="6.6" text-anchor="middle" fill="#222" stroke="#222" stroke-width="0.15">52</text>
<text x="149.90" y="363.30" font-size="6.6" text-anchor="middle" fill="#222" stroke="#222" stroke-width="0.15">34</text>
<text x="182.00" y="363.30" font-size="6.6" text-anchor="middle" fill="#222" stroke="#222" stroke-width="0.15">26</text>
<text x="214.10" y="363.30" font-size="6.6" text-anchor="middle" fill="#222" stroke="#222" stroke-width="0.15">21</text>
<text x="53.60" y="373.30" font-size="6.6" text-anchor="middle" fill="#222" stroke="#222" stroke-width="0.15">73</text>
<text x="85.70" y="373.30" font-size="6.6" text-anchor="middle" fill="#222" stroke="#222" stroke-width="0.15">56</text>
<text x="117.80" y="373.30" font-size="6.6" text-anchor="middle" fill="#222" stroke="#222" stroke-width="0.15">43</text>
<text x="149.90" y="373.30" font-size="6.6" text-anchor="middle" fill="#222" stroke="#222" stroke-width="0.15">35</text>
<text x="182.00" y="373.30" font-size="6.6" text-anchor="middle" fill="#222" stroke="#222" stroke-width="0.15">26</text>
<text x="214.10" y="373.30" font-size="6.6" text-anchor="middle" fill="#222" stroke="#222" stroke-width="0.15">17</text>
<text x="53.60" y="382.80" font-size="6.6" text-anchor="middle" fill="#222" stroke="#222" stroke-width="0.15">28</text>
<text x="85.70" y="382.80" font-size="6.6" text-anchor="middle" fill="#222" stroke="#222" stroke-width="0.15">17</text>
<text x="117.80" y="382.80" font-size="6.6" text-anchor="middle" fill="#222" stroke="#222" stroke-width="0.15">10</text>
<text x="149.90" y="382.80" font-size="6.6" text-anchor="middle" fill="#222" stroke="#222" stroke-width="0.15">8</text>
<text x="182.00" y="382.80" font-size="6.6" text-anchor="middle" fill="#222" stroke="#222" stroke-width="0.15">5</text>
<text x="214.10" y="382.80" font-size="6.6" text-anchor="middle" fill="#222" stroke="#222" stroke-width="0.15">4</text>
<text x="40.50" y="363.30" font-size="6.6" text-anchor="end" fill="#416ca8" stroke="#416ca8" stroke-width="0.08" textLength="31.5" lengthAdjust="spacingAndGlyphs">ISS-Stage I</text>
<text x="40.50" y="373.30" font-size="6.6" text-anchor="end" fill="#c83c64" stroke="#c83c64" stroke-width="0.08" textLength="33.5" lengthAdjust="spacingAndGlyphs">ISS-Stage II</text>
<text x="40.50" y="382.80" font-size="6.6" text-anchor="end" fill="#5cae64" stroke="#5cae64" stroke-width="0.08" textLength="35.5" lengthAdjust="spacingAndGlyphs">ISS-Stage III</text>
<text x="259.80" y="215.80" font-size="11" text-anchor="start" fill="#111" stroke="#111" stroke-width="0.3" font-weight="bold">D</text>
<text x="372.40" y="217.30" font-size="9.3" text-anchor="start" fill="#333" stroke="#333" stroke-width="0.22" textLength="67.3" lengthAdjust="spacingAndGlyphs">PFS for all patients</text>
<path d="M308.50,226.20 L309.25,226.20 L309.25,227.86 L310.00,227.86 L311.15,227.86 L311.15,227.45 L312.30,227.45 L312.68,227.45 L312.68,228.77 L313.43,228.77 L313.43,230.10 L313.80,230.10 L314.20,230.10 L314.20,231.89 L315.00,231.89 L315.00,233.68 L315.40,233.68 L316.17,233.68 L316.17,234.76 L317.73,234.76 L317.73,235.85 L318.50,235.85 L320.75,235.85 L320.75,237.15 L323.00,237.15 L323.80,237.15 L323.80,238.63 L325.40,238.63 L325.40,240.11 L326.20,240.11 L328.50,240.11 L328.50,241.51 L330.80,241.51 L331.95,241.51 L331.95,242.67 L334.25,242.67 L334.25,243.83 L335.40,243.83 L336.55,243.83 L336.55,245.74 L338.85,245.74 L338.85,247.66 L340.00,247.66 L341.55,247.66 L341.55,248.82 L344.65,248.82 L344.65,249.99 L346.20,249.99 L347.73,249.99 L347.73,251.78 L350.77,251.78 L350.77,253.56 L352.30,253.56 L353.45,253.56 L353.45,254.94 L355.75,254.94 L355.75,256.32 L356.90,256.32 L358.05,256.32 L358.05,258.15 L360.35,258.15 L360.35,259.98 L361.50,259.98 L363.85,259.98 L363.85,260.64 L366.20,260.64 L367.35,260.64 L367.35,262.46 L369.65,262.46 L369.65,264.29 L370.80,264.29 L371.95,264.29 L371.95,265.77 L374.25,265.77 L374.25,267.25 L375.40,267.25 L377.22,267.25 L377.22,268.52 L380.88,268.52 L380.88,269.80 L382.70,269.80 L384.62,269.80 L384.62,270.95 L388.47,270.95 L388.47,272.10 L390.40,272.10 L394.20,272.10 L394.20,273.60 L398.00,273.60 L403.40,273.60 L403.40,275.20 L408.80,275.20 L413.40,275.20 L413.40,276.00 L418.00,276.00 L421.10,276.00 L421.10,276.70 L424.20,276.70 L425.75,276.70 L425.75,277.85 L428.85,277.85 L428.85,279.00 L430.40,279.00 L433.45,279.00 L433.45,280.50 L436.50,280.50 L438.85,280.50 L438.85,282.10 L441.20,282.10 L443.50,282.10 L443.50,282.76 L445.80,282.76 L462.00,282.76 L462.00,282.81 L463.50,282.81 L463.50,284.29 L466.50,284.29 L466.50,285.76 L468.00,285.76 L478.00,285.76 L478.00,286.58 L488.00,286.58 L492.50,286.58 L492.50,287.50 L497.00,287.50 L497.00,300.00 L492.50,300.00 L492.50,298.90 L488.00,298.90 L478.00,298.90 L478.00,297.69 L468.00,297.69 L466.50,297.69 L466.50,296.16 L463.50,296.16 L463.50,294.62 L462.00,294.62 L453.90,294.62 L453.90,294.25 L445.80,294.25 L443.50,294.25 L443.50,293.50 L441.20,293.50 L438.85,293.50 L438.85,291.90 L436.50,291.90 L433.45,291.90 L433.45,290.40 L430.40,290.40 L428.85,290.40 L428.85,289.25 L425.75,289.25 L425.75,288.10 L424.20,288.10 L421.10,288.10 L421.10,287.40 L418.00,287.40 L413.40,287.40 L413.40,286.60 L408.80,286.60 L403.40,286.60 L403.40,285.00 L398.00,285.00 L394.20,285.00 L394.20,283.50 L390.40,283.50 L388.47,283.50 L388.47,282.35 L384.62,282.35 L384.62,281.20 L382.70,281.20 L380.88,281.20 L380.88,279.75 L377.22,279.75 L377.22,278.31 L375.40,278.31 L374.25,278.31 L374.25,276.66 L371.95,276.66 L371.95,275.01 L370.80,275.01 L369.65,275.01 L369.65,273.02 L367.35,273.02 L367.35,271.02 L366.20,271.02 L363.85,271.02 L363.85,270.02 L361.50,270.02 L360.35,270.02 L360.35,268.17 L358.05,268.17 L358.05,266.32 L356.90,266.32 L355.75,266.32 L355.75,264.94 L353.45,264.94 L353.45,263.56 L352.30,263.56 L350.77,263.56 L350.77,261.78 L347.73,261.78 L347.73,259.99 L346.20,259.99 L344.65,259.99 L344.65,258.68 L341.55,258.68 L341.55,257.38 L340.00,257.38 L339.23,257.38 L339.23,256.03 L337.70,256.03 L337.70,254.68 L336.17,254.68 L336.17,253.33 L335.40,253.33 L334.25,253.33 L334.25,252.06 L331.95,252.06 L331.95,250.79 L330.80,250.79 L328.50,250.79 L328.50,248.96 L326.20,248.96 L325.40,248.96 L325.40,247.33 L323.80,247.33 L323.80,245.70 L323.00,245.70 L320.75,245.70 L320.75,243.97 L318.50,243.97 L317.73,243.97 L317.73,242.75 L316.17,242.75 L316.17,241.52 L315.40,241.52 L315.13,241.52 L315.13,239.67 L314.60,239.67 L314.60,237.83 L314.07,237.83 L314.07,235.98 L313.80,235.98 L313.55,235.98 L313.55,234.30 L313.05,234.30 L313.05,232.61 L312.55,232.61 L312.55,230.93 L312.30,230.93 L311.15,230.93 L311.15,229.14 L310.00,229.14 L309.62,229.14 L309.62,227.67 L308.88,227.67 L308.88,226.20 L308.50,226.20Z" fill="#6464b4" fill-opacity="0.25" stroke="none"/>
<path d="M308.50,226.20 L308.88,226.20 L308.88,227.35 L309.62,227.35 L309.62,228.50 L310.00,228.50 L311.15,228.50 L311.15,229.20 L312.30,229.20 L312.68,229.20 L312.68,231.15 L313.43,231.15 L313.43,233.10 L313.80,233.10 L314.07,233.10 L314.07,234.63 L314.60,234.63 L314.60,236.17 L315.13,236.17 L315.13,237.70 L315.40,237.70 L316.17,237.70 L316.17,238.85 L317.73,238.85 L317.73,240.00 L318.50,240.00 L320.75,240.00 L320.75,241.50 L323.00,241.50 L323.80,241.50 L323.80,243.05 L325.40,243.05 L325.40,244.60 L326.20,244.60 L328.50,244.60 L328.50,246.20 L330.80,246.20 L331.95,246.20 L331.95,247.35 L334.25,247.35 L334.25,248.50 L335.40,248.50 L336.55,248.50 L336.55,250.40 L338.85,250.40 L338.85,252.30 L340.00,252.30 L341.55,252.30 L341.55,253.45 L344.65,253.45 L344.65,254.60 L346.20,254.60 L347.73,254.60 L347.73,256.55 L350.77,256.55 L350.77,258.50 L352.30,258.50 L353.45,258.50 L353.45,260.00 L355.75,260.00 L355.75,261.50 L356.90,261.50 L358.05,261.50 L358.05,263.45 L360.35,263.45 L360.35,265.40 L361.50,265.40 L363.85,265.40 L363.85,266.20 L366.20,266.20 L367.35,266.20 L367.35,268.10 L369.65,268.10 L369.65,270.00 L370.80,270.00 L371.95,270.00 L371.95,271.55 L374.25,271.55 L374.25,273.10 L375.40,273.10 L377.22,273.10 L377.22,274.45 L380.88,274.45 L380.88,275.80 L382.70,275.80 L384.62,275.80 L384.62,276.95 L388.47,276.95 L388.47,278.10 L390.40,278.10 L394.20,278.10 L394.20,279.60 L398.00,279.60 L403.40,279.60 L403.40,281.20 L408.80,281.20 L413.40,281.20 L413.40,282.00 L418.00,282.00 L421.10,282.00 L421.10,282.70 L424.20,282.70 L425.75,282.70 L425.75,283.85 L428.85,283.85 L428.85,285.00 L430.40,285.00 L433.45,285.00 L433.45,286.50 L436.50,286.50 L438.85,286.50 L438.85,288.10 L441.20,288.10 L443.50,288.10 L443.50,288.80 L445.80,288.80 L462.00,288.80 L462.00,289.00 L463.50,289.00 L463.50,290.50 L466.50,290.50 L466.50,292.00 L468.00,292.00 L478.00,292.00 L478.00,293.00 L488.00,293.00 L492.50,293.00 L492.50,294.00 L497.00,294.00" fill="none" stroke="#1f3766" stroke-width="1.3" stroke-linejoin="miter"/>
<line x1="440.00" y1="284.50" x2="440.00" y2="288.50" stroke="#1f3766" stroke-width="1.1"/>
<line x1="438.80" y1="286.50" x2="441.20" y2="286.50" stroke="#1f3766" stroke-width="1.1"/>
<line x1="446.00" y1="286.80" x2="446.00" y2="290.80" stroke="#1f3766" stroke-width="1.1"/>
<line x1="444.80" y1="288.80" x2="447.20" y2="288.80" stroke="#1f3766" stroke-width="1.1"/>
<line x1="470.00" y1="290.00" x2="470.00" y2="294.00" stroke="#1f3766" stroke-width="1.1"/>
<line x1="468.80" y1="292.00" x2="471.20" y2="292.00" stroke="#1f3766" stroke-width="1.1"/>
<line x1="475.00" y1="290.00" x2="475.00" y2="294.00" stroke="#1f3766" stroke-width="1.1"/>
<line x1="473.80" y1="292.00" x2="476.20" y2="292.00" stroke="#1f3766" stroke-width="1.1"/>
<line x1="479.00" y1="290.00" x2="479.00" y2="294.00" stroke="#1f3766" stroke-width="1.1"/>
<line x1="477.80" y1="292.00" x2="480.20" y2="292.00" stroke="#1f3766" stroke-width="1.1"/>
<line x1="482.00" y1="290.00" x2="482.00" y2="294.00" stroke="#1f3766" stroke-width="1.1"/>
<line x1="480.80" y1="292.00" x2="483.20" y2="292.00" stroke="#1f3766" stroke-width="1.1"/>
<line x1="485.00" y1="290.00" x2="485.00" y2="294.00" stroke="#1f3766" stroke-width="1.1"/>
<line x1="483.80" y1="292.00" x2="486.20" y2="292.00" stroke="#1f3766" stroke-width="1.1"/>
<line x1="488.00" y1="291.00" x2="488.00" y2="295.00" stroke="#1f3766" stroke-width="1.1"/>
<line x1="486.80" y1="293.00" x2="489.20" y2="293.00" stroke="#1f3766" stroke-width="1.1"/>
<line x1="491.00" y1="291.00" x2="491.00" y2="295.00" stroke="#1f3766" stroke-width="1.1"/>
<line x1="489.80" y1="293.00" x2="492.20" y2="293.00" stroke="#1f3766" stroke-width="1.1"/>
<line x1="494.00" y1="291.00" x2="494.00" y2="295.00" stroke="#1f3766" stroke-width="1.1"/>
<line x1="492.80" y1="293.00" x2="495.20" y2="293.00" stroke="#1f3766" stroke-width="1.1"/>
<line x1="497.00" y1="292.00" x2="497.00" y2="296.00" stroke="#1f3766" stroke-width="1.1"/>
<line x1="495.80" y1="294.00" x2="498.20" y2="294.00" stroke="#1f3766" stroke-width="1.1"/>
<line x1="298.20" y1="222.00" x2="298.20" y2="324.00" stroke="#222" stroke-width="1.3"/>
<line x1="297.60" y1="323.40" x2="513.50" y2="323.40" stroke="#222" stroke-width="1.3"/>
<line x1="295.20" y1="225.95" x2="298.20" y2="225.95" stroke="#222" stroke-width="1.0"/>
<text x="293.00" y="228.15" font-size="6.6" text-anchor="end" fill="#333" stroke="#333" stroke-width="0.08">1.00</text>
<line x1="295.20" y1="249.01" x2="298.20" y2="249.01" stroke="#222" stroke-width="1.0"/>
<text x="293.00" y="251.21" font-size="6.6" text-anchor="end" fill="#333" stroke="#333" stroke-width="0.08">0.75</text>
<line x1="295.20" y1="272.07" x2="298.20" y2="272.07" stroke="#222" stroke-width="1.0"/>
<text x="293.00" y="274.27" font-size="6.6" text-anchor="end" fill="#333" stroke="#333" stroke-width="0.08">0.50</text>
<line x1="295.20" y1="295.14" x2="298.20" y2="295.14" stroke="#222" stroke-width="1.0"/>
<text x="293.00" y="297.34" font-size="6.6" text-anchor="end" fill="#333" stroke="#333" stroke-width="0.08">0.25</text>
<line x1="295.20" y1="318.20" x2="298.20" y2="318.20" stroke="#222" stroke-width="1.0"/>
<text x="293.00" y="320.40" font-size="6.6" text-anchor="end" fill="#333" stroke="#333" stroke-width="0.08">0.00</text>
<line x1="308.00" y1="323.40" x2="308.00" y2="326.40" stroke="#222" stroke-width="1.0"/>
<text x="308.00" y="334.10" font-size="6.6" text-anchor="middle" fill="#333" stroke="#333" stroke-width="0.08">0</text>
<line x1="342.71" y1="323.40" x2="342.71" y2="326.40" stroke="#222" stroke-width="1.0"/>
<text x="342.71" y="334.10" font-size="6.6" text-anchor="middle" fill="#333" stroke="#333" stroke-width="0.08">3</text>
<line x1="377.42" y1="323.40" x2="377.42" y2="326.40" stroke="#222" stroke-width="1.0"/>
<text x="377.42" y="334.10" font-size="6.6" text-anchor="middle" fill="#333" stroke="#333" stroke-width="0.08">6</text>
<line x1="412.13" y1="323.40" x2="412.13" y2="326.40" stroke="#222" stroke-width="1.0"/>
<text x="412.13" y="334.10" font-size="6.6" text-anchor="middle" fill="#333" stroke="#333" stroke-width="0.08">9</text>
<line x1="446.84" y1="323.40" x2="446.84" y2="326.40" stroke="#222" stroke-width="1.0"/>
<text x="446.84" y="334.10" font-size="6.6" text-anchor="middle" fill="#333" stroke="#333" stroke-width="0.08">12</text>
<line x1="481.55" y1="323.40" x2="481.55" y2="326.40" stroke="#222" stroke-width="1.0"/>
<text x="481.55" y="334.10" font-size="6.6" text-anchor="middle" fill="#333" stroke="#333" stroke-width="0.08">15</text>
<text x="276.80" y="272.50" font-size="8.3" text-anchor="middle" fill="#1a1a1a" stroke="#1a1a1a" stroke-width="0.2" textLength="27.5" lengthAdjust="spacingAndGlyphs" transform="rotate(-90 276.80 272.50)">Probability</text>
<text x="406.00" y="342.50" font-size="9.2" text-anchor="middle" fill="#1a1a1a" stroke="#1a1a1a" stroke-width="0.3" textLength="32" lengthAdjust="spacingAndGlyphs">Time (years)</text>
<text x="298.00" y="353.00" font-size="6.6" text-anchor="start" fill="#2a2a2a" stroke="#2a2a2a" stroke-width="0.18" textLength="38.5" lengthAdjust="spacingAndGlyphs">Number at risk</text>
<text x="308.00" y="362.80" font-size="6.6" text-anchor="middle" fill="#222" stroke="#222" stroke-width="0.15">177</text>
<text x="342.71" y="362.80" font-size="6.6" text-anchor="middle" fill="#222" stroke="#222" stroke-width="0.15">120</text>
<text x="377.42" y="362.80" font-size="6.6" text-anchor="middle" fill="#222" stroke="#222" stroke-width="0.15">79</text>
<text x="412.13" y="362.80" font-size="6.6" text-anchor="middle" fill="#222" stroke="#222" stroke-width="0.15">64</text>
<text x="446.84" y="362.80" font-size="6.6" text-anchor="middle" fill="#222" stroke="#222" stroke-width="0.15">49</text>
<text x="481.55" y="362.80" font-size="6.6" text-anchor="middle" fill="#222" stroke="#222" stroke-width="0.15">35</text>
<text x="295.00" y="362.80" font-size="6.6" text-anchor="end" fill="#416ca8" stroke="#416ca8" stroke-width="0.08" textLength="5.5" lengthAdjust="spacingAndGlyphs">All</text>
<text x="6.50" y="409.00" font-size="11" text-anchor="start" fill="#111" stroke="#111" stroke-width="0.3" font-weight="bold">E</text>
<text x="127.00" y="410.40" font-size="9.3" text-anchor="start" fill="#333" stroke="#333" stroke-width="0.22" textLength="50" lengthAdjust="spacingAndGlyphs">PFS per GEP</text>
<path d="M54.20,419.20 L54.93,419.20 L54.93,421.07 L56.38,421.07 L56.38,422.95 L57.83,422.95 L57.83,424.82 L59.27,424.82 L59.27,426.70 L60.00,426.70 L60.28,426.70 L60.28,428.07 L60.85,428.07 L60.85,429.43 L61.42,429.43 L61.42,430.80 L61.70,430.80 L64.20,430.80 L64.20,432.50 L66.70,432.50 L67.95,432.50 L67.95,434.15 L70.45,434.15 L70.45,435.80 L71.70,435.80 L71.70,435.80 L71.70,445.00 L73.35,445.00 L73.35,445.80 L75.00,445.80 L75.80,445.80 L75.80,450.00 L80.40,450.00 L80.40,450.80 L85.00,450.80 L85.80,450.80 L85.80,461.70 L90.40,461.70 L90.40,462.50 L95.00,462.50 L95.28,462.50 L95.28,463.90 L95.85,463.90 L95.85,465.30 L96.42,465.30 L96.42,466.70 L96.70,466.70 L101.70,466.70 L101.70,467.50 L106.70,467.50 L106.97,467.50 L106.97,468.90 L107.50,468.90 L107.50,470.30 L108.03,470.30 L108.03,471.70 L108.30,471.70 L112.50,471.70 L112.50,472.50 L116.70,472.50 L116.90,472.50 L116.90,474.18 L117.30,474.18 L117.30,475.85 L117.70,475.85 L117.70,477.52 L118.10,477.52 L118.10,479.20 L118.30,479.20 L140.00,479.20 L140.00,479.20 L141.50,479.20 L141.50,480.60 L144.50,480.60 L144.50,482.00 L146.00,482.00 L169.00,482.00 L169.00,482.00 L169.60,482.00 L169.60,487.60 L242.00,487.60 L242.00,487.60 L242.00,508.00 L242.00,508.00 L169.60,508.00 L169.60,505.00 L169.00,505.00 L169.00,505.00 L146.00,505.00 L143.00,505.00 L143.00,503.30 L140.00,503.30 L140.00,503.30 L118.30,503.30 L117.47,503.30 L117.47,501.63 L115.80,501.63 L115.80,499.97 L114.13,499.97 L114.13,498.30 L113.30,498.30 L113.10,498.30 L113.10,496.65 L112.70,496.65 L112.70,495.00 L112.30,495.00 L112.30,493.35 L111.90,493.35 L111.90,491.70 L111.70,491.70 L108.35,491.70 L108.35,490.00 L105.00,490.00 L102.08,490.00 L102.08,488.35 L96.22,488.35 L96.22,486.70 L93.30,486.70 L89.55,486.70 L89.55,485.00 L85.80,485.00 L85.49,485.00 L85.49,483.32 L84.86,483.32 L84.86,481.65 L84.24,481.65 L84.24,479.98 L83.61,479.98 L83.61,478.30 L83.30,478.30 L82.20,478.30 L82.20,476.93 L80.00,476.93 L80.00,475.57 L77.80,475.57 L77.80,474.20 L76.70,474.20 L76.13,474.20 L76.13,472.80 L75.00,472.80 L75.00,471.40 L73.87,471.40 L73.87,470.00 L73.30,470.00 L72.75,470.00 L72.75,468.33 L71.65,468.33 L71.65,466.67 L70.55,466.67 L70.55,465.00 L70.00,465.00 L69.45,465.00 L69.45,463.07 L68.35,463.07 L68.35,461.13 L67.25,461.13 L67.25,459.20 L66.70,459.20 L66.13,459.20 L66.13,457.80 L65.00,457.80 L65.00,456.40 L63.87,456.40 L63.87,455.00 L63.30,455.00 L62.89,455.00 L62.89,453.32 L62.06,453.32 L62.06,451.65 L61.24,451.65 L61.24,449.98 L60.41,449.98 L60.41,448.30 L60.00,448.30 L60.00,440.90 L59.50,440.90 L59.41,440.90 L59.41,438.97 L59.23,438.97 L59.23,437.03 L59.04,437.03 L59.04,435.10 L58.86,435.10 L58.86,433.17 L58.67,433.17 L58.67,431.23 L58.49,431.23 L58.49,429.30 L58.40,429.30 L58.04,429.30 L58.04,427.43 L57.31,427.43 L57.31,425.55 L56.59,425.55 L56.59,423.68 L55.86,423.68 L55.86,421.80 L55.50,421.80 L55.17,421.80 L55.17,420.50 L54.53,420.50 L54.53,419.20 L54.20,419.20Z" fill="#e8786e" fill-opacity="0.33" stroke="none"/>
<path d="M54.00,419.00 L56.00,419.00 L56.00,421.00 L58.00,421.00 L60.00,421.00 L60.00,422.90 L62.00,422.90 L64.00,422.90 L64.00,424.25 L68.00,424.25 L68.00,425.60 L70.00,425.60 L72.50,425.60 L72.50,427.12 L77.50,427.12 L77.50,428.65 L80.00,428.65 L81.67,428.65 L81.67,430.27 L85.00,430.27 L85.00,431.88 L88.33,431.88 L88.33,433.50 L90.00,433.50 L91.35,433.50 L91.35,434.05 L92.70,434.05 L93.37,434.05 L93.37,435.62 L94.70,435.62 L94.70,437.20 L96.03,437.20 L96.03,438.77 L96.70,438.77 L98.05,438.77 L98.05,440.72 L100.75,440.72 L100.75,442.66 L102.10,442.66 L103.45,442.66 L103.45,444.61 L106.15,444.61 L106.15,446.56 L107.50,446.56 L109.50,446.56 L109.50,447.18 L111.50,447.18 L112.85,447.18 L112.85,449.13 L115.55,449.13 L115.55,451.08 L116.90,451.08 L117.93,451.08 L117.93,452.39 L119.97,452.39 L119.97,453.70 L121.00,453.70 L123.65,453.70 L123.65,454.29 L126.30,454.29 L127.33,454.29 L127.33,455.54 L129.38,455.54 L129.38,456.79 L130.40,456.79 L133.10,456.79 L133.10,457.84 L135.80,457.84 L137.80,457.84 L137.80,459.00 L141.80,459.00 L141.80,460.16 L143.80,460.16 L149.90,460.16 L149.90,461.69 L156.00,461.69 L158.00,461.69 L158.00,462.00 L160.00,462.00 L167.35,462.00 L167.35,462.65 L174.70,462.65 L175.77,462.65 L175.77,463.92 L177.93,463.92 L177.93,465.18 L179.00,465.18 L180.75,465.18 L180.75,466.43 L184.25,466.43 L184.25,467.67 L186.00,467.67 L189.00,467.67 L189.00,468.45 L192.00,468.45 L199.80,468.45 L199.80,468.06 L207.60,468.06 L208.68,468.06 L208.68,469.22 L210.82,469.22 L210.82,470.38 L211.90,470.38 L215.35,470.38 L215.35,472.27 L218.80,472.27 L227.45,472.27 L227.45,471.52 L236.10,471.52 L239.55,471.52 L239.55,472.90 L243.00,472.90 L243.00,487.40 L239.55,487.40 L239.55,485.70 L236.10,485.70 L236.10,485.67 L218.80,485.67 L217.08,485.67 L217.08,484.57 L213.62,484.57 L213.62,483.47 L211.90,483.47 L210.82,483.47 L210.82,482.27 L208.68,482.27 L208.68,481.06 L207.60,481.06 L199.80,481.06 L199.80,481.45 L192.00,481.45 L189.00,481.45 L189.00,480.80 L186.00,480.80 L184.25,480.80 L184.25,479.68 L180.75,479.68 L180.75,478.55 L179.00,478.55 L177.93,478.55 L177.93,477.36 L175.77,477.36 L175.77,476.16 L174.70,476.16 L174.70,476.00 L160.00,476.00 L158.00,476.00 L158.00,475.44 L156.00,475.44 L152.95,475.44 L152.95,474.30 L146.85,474.30 L146.85,473.16 L143.80,473.16 L141.80,473.16 L141.80,471.75 L137.80,471.75 L137.80,470.34 L135.80,470.34 L133.10,470.34 L133.10,468.96 L130.40,468.96 L129.38,468.96 L129.38,467.58 L127.33,467.58 L127.33,466.20 L126.30,466.20 L123.65,466.20 L123.65,465.35 L121.00,465.35 L119.97,465.35 L119.97,463.93 L117.93,463.93 L117.93,462.52 L116.90,462.52 L116.00,462.52 L116.00,461.13 L114.20,461.13 L114.20,459.75 L112.40,459.75 L112.40,458.36 L111.50,458.36 L109.50,458.36 L109.50,457.53 L107.50,457.53 L106.60,457.53 L106.60,456.15 L104.80,456.15 L104.80,454.76 L103.00,454.76 L103.00,453.37 L102.10,453.37 L101.20,453.37 L101.20,451.98 L99.40,451.98 L99.40,450.59 L97.60,450.59 L97.60,449.20 L96.70,449.20 L96.03,449.20 L96.03,447.56 L94.70,447.56 L94.70,445.92 L93.37,445.92 L93.37,444.28 L92.70,444.28 L91.35,444.28 L91.35,443.60 L90.00,443.60 L88.33,443.60 L88.33,441.72 L85.00,441.72 L85.00,439.83 L81.67,439.83 L81.67,437.95 L80.00,437.95 L77.50,437.95 L77.50,436.02 L72.50,436.02 L72.50,434.10 L70.00,434.10 L68.67,434.10 L68.67,432.70 L66.00,432.70 L66.00,431.30 L63.33,431.30 L63.33,429.90 L62.00,429.90 L61.33,429.90 L61.33,428.27 L60.00,428.27 L60.00,426.63 L58.67,426.63 L58.67,425.00 L58.00,425.00 L57.33,425.00 L57.33,423.00 L56.00,423.00 L56.00,421.00 L54.67,421.00 L54.67,419.00 L54.00,419.00Z" fill="#6464b4" fill-opacity="0.25" stroke="none"/>
<path d="M54.00,419.00 L55.00,419.00 L55.00,421.00 L57.00,421.00 L57.00,423.00 L58.00,423.00 L59.00,423.00 L59.00,424.70 L61.00,424.70 L61.00,426.40 L62.00,426.40 L64.00,426.40 L64.00,428.00 L68.00,428.00 L68.00,429.60 L70.00,429.60 L72.50,429.60 L72.50,431.30 L77.50,431.30 L77.50,433.00 L80.00,433.00 L81.67,433.00 L81.67,434.73 L85.00,434.73 L85.00,436.47 L88.33,436.47 L88.33,438.20 L90.00,438.20 L91.35,438.20 L91.35,438.80 L92.70,438.80 L93.37,438.80 L93.37,440.40 L94.70,440.40 L94.70,442.00 L96.03,442.00 L96.03,443.60 L96.70,443.60 L98.05,443.60 L98.05,445.60 L100.75,445.60 L100.75,447.60 L102.10,447.60 L103.45,447.60 L103.45,449.60 L106.15,449.60 L106.15,451.60 L107.50,451.60 L109.50,451.60 L109.50,452.30 L111.50,452.30 L112.85,452.30 L112.85,454.30 L115.55,454.30 L115.55,456.30 L116.90,456.30 L117.93,456.30 L117.93,457.65 L119.97,457.65 L119.97,459.00 L121.00,459.00 L123.65,459.00 L123.65,459.70 L126.30,459.70 L127.33,459.70 L127.33,461.05 L129.38,461.05 L129.38,462.40 L130.40,462.40 L133.10,462.40 L133.10,463.70 L135.80,463.70 L137.80,463.70 L137.80,465.05 L141.80,465.05 L141.80,466.40 L143.80,466.40 L146.85,466.40 L146.85,467.45 L152.95,467.45 L152.95,468.50 L156.00,468.50 L158.00,468.50 L158.00,469.00 L160.00,469.00 L167.35,469.00 L167.35,469.90 L174.70,469.90 L175.77,469.90 L175.77,471.20 L177.93,471.20 L177.93,472.50 L179.00,472.50 L180.75,472.50 L180.75,473.80 L184.25,473.80 L184.25,475.10 L186.00,475.10 L189.00,475.10 L189.00,476.00 L192.00,476.00 L207.60,476.00 L207.60,476.00 L208.68,476.00 L208.68,477.25 L210.82,477.25 L210.82,478.50 L211.90,478.50 L213.62,478.50 L213.62,479.65 L217.08,479.65 L217.08,480.80 L218.80,480.80 L227.45,480.80 L227.45,481.10 L236.10,481.10 L239.55,481.10 L239.55,482.90 L243.00,482.90" fill="none" stroke="#1f3766" stroke-width="1.3" stroke-linejoin="miter"/>
<path d="M54.20,419.20 L55.03,419.20 L55.03,420.57 L56.70,420.57 L56.70,421.93 L58.37,421.93 L58.37,423.30 L59.20,423.30 L60.00,423.30 L60.00,430.00 L60.80,430.00 L60.80,436.70 L60.91,436.70 L60.91,438.35 L61.14,438.35 L61.14,440.00 L61.36,440.00 L61.36,441.65 L61.59,441.65 L61.59,443.30 L61.70,443.30 L62.53,443.30 L62.53,444.70 L64.20,444.70 L64.20,446.10 L65.87,446.10 L65.87,447.50 L66.70,447.50 L67.53,447.50 L67.53,448.90 L69.20,448.90 L69.20,450.30 L70.87,450.30 L70.87,451.70 L71.70,451.70 L71.90,451.70 L71.90,453.35 L72.30,453.35 L72.30,455.00 L72.70,455.00 L72.70,456.65 L73.10,456.65 L73.10,458.30 L73.30,458.30 L73.87,458.30 L73.87,460.27 L75.00,460.27 L75.00,462.23 L76.13,462.23 L76.13,464.20 L76.70,464.20 L78.75,464.20 L78.75,465.00 L80.80,465.00 L81.50,465.00 L81.50,466.67 L82.90,466.67 L82.90,468.33 L84.30,468.33 L84.30,470.00 L85.00,470.00 L85.80,470.00 L85.80,475.00 L86.22,475.00 L86.22,476.65 L87.08,476.65 L87.08,478.30 L87.50,478.30 L90.40,478.30 L90.40,479.20 L93.30,479.20 L94.55,479.20 L94.55,480.45 L97.05,480.45 L97.05,481.70 L98.30,481.70 L101.65,481.70 L101.65,483.30 L105.00,483.30 L108.35,483.30 L108.35,484.20 L111.70,484.20 L112.53,484.20 L112.53,485.57 L114.20,485.57 L114.20,486.93 L115.87,486.93 L115.87,488.30 L116.70,488.30 L116.97,488.30 L116.97,489.97 L117.50,489.97 L117.50,491.63 L118.03,491.63 L118.03,493.30 L118.30,493.30 L119.15,493.30 L119.15,495.00 L120.00,495.00 L140.00,495.00 L140.00,495.00 L141.50,495.00 L141.50,496.50 L144.50,496.50 L144.50,498.00 L146.00,498.00 L169.00,498.00 L169.00,498.00 L169.60,498.00 L169.60,503.60 L243.00,503.60 L243.00,503.60" fill="none" stroke="#961d36" stroke-width="1.5" stroke-dasharray="2.8,1.9" stroke-linejoin="miter"/>
<line x1="186.00" y1="473.30" x2="186.00" y2="476.90" stroke="#1f3766" stroke-width="1.1"/>
<line x1="184.80" y1="475.10" x2="187.20" y2="475.10" stroke="#1f3766" stroke-width="1.1"/>
<line x1="192.00" y1="474.20" x2="192.00" y2="477.80" stroke="#1f3766" stroke-width="1.1"/>
<line x1="190.80" y1="476.00" x2="193.20" y2="476.00" stroke="#1f3766" stroke-width="1.1"/>
<line x1="222.00" y1="479.00" x2="222.00" y2="482.60" stroke="#1f3766" stroke-width="1.1"/>
<line x1="220.80" y1="480.80" x2="223.20" y2="480.80" stroke="#1f3766" stroke-width="1.1"/>
<line x1="225.00" y1="479.00" x2="225.00" y2="482.60" stroke="#1f3766" stroke-width="1.1"/>
<line x1="223.80" y1="480.80" x2="226.20" y2="480.80" stroke="#1f3766" stroke-width="1.1"/>
<line x1="228.00" y1="479.00" x2="228.00" y2="482.60" stroke="#1f3766" stroke-width="1.1"/>
<line x1="226.80" y1="480.80" x2="229.20" y2="480.80" stroke="#1f3766" stroke-width="1.1"/>
<line x1="231.00" y1="479.00" x2="231.00" y2="482.60" stroke="#1f3766" stroke-width="1.1"/>
<line x1="229.80" y1="480.80" x2="232.20" y2="480.80" stroke="#1f3766" stroke-width="1.1"/>
<line x1="234.00" y1="479.00" x2="234.00" y2="482.60" stroke="#1f3766" stroke-width="1.1"/>
<line x1="232.80" y1="480.80" x2="235.20" y2="480.80" stroke="#1f3766" stroke-width="1.1"/>
<line x1="237.00" y1="479.30" x2="237.00" y2="482.90" stroke="#1f3766" stroke-width="1.1"/>
<line x1="235.80" y1="481.10" x2="238.20" y2="481.10" stroke="#1f3766" stroke-width="1.1"/>
<line x1="240.00" y1="479.30" x2="240.00" y2="482.90" stroke="#1f3766" stroke-width="1.1"/>
<line x1="238.80" y1="481.10" x2="241.20" y2="481.10" stroke="#1f3766" stroke-width="1.1"/>
<line x1="242.00" y1="479.30" x2="242.00" y2="482.90" stroke="#1f3766" stroke-width="1.1"/>
<line x1="240.80" y1="481.10" x2="243.20" y2="481.10" stroke="#1f3766" stroke-width="1.1"/>
<line x1="237.00" y1="501.80" x2="237.00" y2="505.40" stroke="#961d36" stroke-width="1.1"/>
<line x1="235.80" y1="503.60" x2="238.20" y2="503.60" stroke="#961d36" stroke-width="1.1"/>
<line x1="240.00" y1="501.80" x2="240.00" y2="505.40" stroke="#961d36" stroke-width="1.1"/>
<line x1="238.80" y1="503.60" x2="241.20" y2="503.60" stroke="#961d36" stroke-width="1.1"/>
<line x1="44.40" y1="415.00" x2="44.40" y2="516.60" stroke="#222" stroke-width="1.3"/>
<line x1="43.80" y1="516.00" x2="259.60" y2="516.00" stroke="#222" stroke-width="1.3"/>
<line x1="41.40" y1="419.40" x2="44.40" y2="419.40" stroke="#222" stroke-width="1.0"/>
<text x="39.20" y="421.60" font-size="6.6" text-anchor="end" fill="#333" stroke="#333" stroke-width="0.08">1.00</text>
<line x1="41.40" y1="442.40" x2="44.40" y2="442.40" stroke="#222" stroke-width="1.0"/>
<text x="39.20" y="444.60" font-size="6.6" text-anchor="end" fill="#333" stroke="#333" stroke-width="0.08">0.75</text>
<line x1="41.40" y1="465.40" x2="44.40" y2="465.40" stroke="#222" stroke-width="1.0"/>
<text x="39.20" y="467.60" font-size="6.6" text-anchor="end" fill="#333" stroke="#333" stroke-width="0.08">0.50</text>
<line x1="41.40" y1="488.40" x2="44.40" y2="488.40" stroke="#222" stroke-width="1.0"/>
<text x="39.20" y="490.60" font-size="6.6" text-anchor="end" fill="#333" stroke="#333" stroke-width="0.08">0.25</text>
<line x1="41.40" y1="511.40" x2="44.40" y2="511.40" stroke="#222" stroke-width="1.0"/>
<text x="39.20" y="513.60" font-size="6.6" text-anchor="end" fill="#333" stroke="#333" stroke-width="0.08">0.00</text>
<line x1="53.60" y1="516.00" x2="53.60" y2="519.00" stroke="#222" stroke-width="1.0"/>
<text x="53.60" y="526.70" font-size="6.6" text-anchor="middle" fill="#333" stroke="#333" stroke-width="0.08">0</text>
<line x1="88.40" y1="516.00" x2="88.40" y2="519.00" stroke="#222" stroke-width="1.0"/>
<text x="88.40" y="526.70" font-size="6.6" text-anchor="middle" fill="#333" stroke="#333" stroke-width="0.08">3</text>
<line x1="123.20" y1="516.00" x2="123.20" y2="519.00" stroke="#222" stroke-width="1.0"/>
<text x="123.20" y="526.70" font-size="6.6" text-anchor="middle" fill="#333" stroke="#333" stroke-width="0.08">6</text>
<line x1="158.00" y1="516.00" x2="158.00" y2="519.00" stroke="#222" stroke-width="1.0"/>
<text x="158.00" y="526.70" font-size="6.6" text-anchor="middle" fill="#333" stroke="#333" stroke-width="0.08">9</text>
<line x1="192.80" y1="516.00" x2="192.80" y2="519.00" stroke="#222" stroke-width="1.0"/>
<text x="192.80" y="526.70" font-size="6.6" text-anchor="middle" fill="#333" stroke="#333" stroke-width="0.08">12</text>
<line x1="227.60" y1="516.00" x2="227.60" y2="519.00" stroke="#222" stroke-width="1.0"/>
<text x="227.60" y="526.70" font-size="6.6" text-anchor="middle" fill="#333" stroke="#333" stroke-width="0.08">15</text>
<text x="22.80" y="465.40" font-size="8.3" text-anchor="middle" fill="#1a1a1a" stroke="#1a1a1a" stroke-width="0.2" textLength="27.5" lengthAdjust="spacingAndGlyphs" transform="rotate(-90 22.80 465.40)">Probability</text>
<text x="152.00" y="535.80" font-size="9.2" text-anchor="middle" fill="#1a1a1a" stroke="#1a1a1a" stroke-width="0.3" textLength="32" lengthAdjust="spacingAndGlyphs">Time (years)</text>
<text x="57.40" y="486.80" font-size="6.6" text-anchor="start" fill="#2a2a2a" stroke="#2a2a2a" stroke-width="0.18" textLength="23.2" lengthAdjust="spacingAndGlyphs">Log-rank</text>
<text x="57.40" y="493.80" font-size="6.6" text-anchor="start" fill="#2a2a2a" stroke="#2a2a2a" stroke-width="0.18" textLength="26.9" lengthAdjust="spacingAndGlyphs"><tspan font-style="italic">P</tspan> &lt; .0001</text>
<text x="44.50" y="546.00" font-size="6.6" text-anchor="start" fill="#2a2a2a" stroke="#2a2a2a" stroke-width="0.18" textLength="38.5" lengthAdjust="spacingAndGlyphs">Number at risk</text>
<text x="53.60" y="556.00" font-size="6.6" text-anchor="middle" fill="#222" stroke="#222" stroke-width="0.15">136</text>
<text x="88.40" y="556.00" font-size="6.6" text-anchor="middle" fill="#222" stroke="#222" stroke-width="0.15">105</text>
<text x="123.20" y="556.00" font-size="6.6" text-anchor="middle" fill="#222" stroke="#222" stroke-width="0.15">70</text>
<text x="158.00" y="556.00" font-size="6.6" text-anchor="middle" fill="#222" stroke="#222" stroke-width="0.15">56</text>
<text x="192.80" y="556.00" font-size="6.6" text-anchor="middle" fill="#222" stroke="#222" stroke-width="0.15">44</text>
<text x="227.60" y="556.00" font-size="6.6" text-anchor="middle" fill="#222" stroke="#222" stroke-width="0.15">31</text>
<text x="53.60" y="565.50" font-size="6.6" text-anchor="middle" fill="#222" stroke="#222" stroke-width="0.15">37</text>
<text x="88.40" y="565.50" font-size="6.6" text-anchor="middle" fill="#222" stroke="#222" stroke-width="0.15">12</text>
<text x="123.20" y="565.50" font-size="6.6" text-anchor="middle" fill="#222" stroke="#222" stroke-width="0.15">6</text>
<text x="158.00" y="565.50" font-size="6.6" text-anchor="middle" fill="#222" stroke="#222" stroke-width="0.15">5</text>
<text x="192.80" y="565.50" font-size="6.6" text-anchor="middle" fill="#222" stroke="#222" stroke-width="0.15">3</text>
<text x="227.60" y="565.50" font-size="6.6" text-anchor="middle" fill="#222" stroke="#222" stroke-width="0.15">3</text>
<text x="40.75" y="556.00" font-size="6.6" text-anchor="end" fill="#416ca8" stroke="#416ca8" stroke-width="0.08" textLength="26.5" lengthAdjust="spacingAndGlyphs">GEP-Low</text>
<text x="40.75" y="565.50" font-size="6.6" text-anchor="end" fill="#c83c64" stroke="#c83c64" stroke-width="0.08" textLength="27.5" lengthAdjust="spacingAndGlyphs">GEP-High</text>
<text x="275.30" y="409.00" font-size="11" text-anchor="start" fill="#111" stroke="#111" stroke-width="0.3" font-weight="bold">F</text>
<text x="391.00" y="410.40" font-size="9.3" text-anchor="start" fill="#333" stroke="#333" stroke-width="0.22" textLength="45" lengthAdjust="spacingAndGlyphs">PFS per ISS</text>
<path d="M322.50,420.00 L325.55,420.00 L325.55,418.60 L328.60,418.60 L330.00,418.60 L330.00,419.90 L331.40,419.90 L331.67,419.90 L331.67,421.00 L332.23,421.00 L332.23,422.10 L332.50,422.10 L334.20,422.10 L334.20,421.61 L335.90,421.61 L338.10,421.61 L338.10,422.40 L340.30,422.40 L342.55,422.40 L342.55,423.16 L344.80,423.16 L346.45,423.16 L346.45,424.32 L348.10,424.32 L348.95,424.32 L348.95,426.15 L350.65,426.15 L350.65,427.98 L351.50,427.98 L352.05,427.98 L352.05,429.50 L352.60,429.50 L355.95,429.50 L355.95,429.02 L359.30,429.02 L359.85,429.02 L359.85,430.12 L360.95,430.12 L360.95,431.22 L361.50,431.22 L361.88,431.22 L361.88,432.56 L362.65,432.56 L362.65,433.89 L363.42,433.89 L363.42,435.23 L363.80,435.23 L365.90,435.23 L365.90,437.12 L368.00,437.12 L368.70,437.12 L368.70,438.93 L370.10,438.93 L370.10,440.75 L370.80,440.75 L373.75,440.75 L373.75,442.13 L376.70,442.13 L377.43,442.13 L377.43,443.53 L378.88,443.53 L378.88,444.93 L379.60,444.93 L380.70,444.93 L380.70,445.95 L382.90,445.95 L382.90,446.97 L384.00,446.97 L386.90,446.97 L386.90,448.16 L389.80,448.16 L390.52,448.16 L390.52,449.61 L391.98,449.61 L391.98,451.06 L392.70,451.06 L397.85,451.06 L397.85,452.14 L403.00,452.14 L403.73,452.14 L403.73,453.21 L405.17,453.21 L405.17,454.28 L405.90,454.28 L416.10,454.28 L416.10,454.08 L416.48,454.08 L416.48,455.51 L417.23,455.51 L417.23,456.95 L417.60,456.95 L426.30,456.95 L426.30,457.70 L435.00,457.70 L435.88,457.70 L435.88,459.29 L437.62,459.29 L437.62,460.89 L438.50,460.89 L439.45,460.89 L439.45,462.56 L441.35,462.56 L441.35,464.24 L443.25,464.24 L443.25,465.91 L444.20,465.91 L455.60,465.91 L455.60,463.95 L467.00,463.95 L467.54,463.95 L467.54,465.46 L468.61,465.46 L468.61,466.98 L469.69,466.98 L469.69,468.49 L470.76,468.49 L470.76,470.00 L471.30,470.00 L484.45,470.00 L484.45,470.80 L497.60,470.80 L497.60,495.80 L484.45,495.80 L484.45,495.00 L471.30,495.00 L470.76,495.00 L470.76,493.39 L469.69,493.39 L469.69,491.79 L468.61,491.79 L468.61,490.18 L467.54,490.18 L467.54,488.57 L467.00,488.57 L455.60,488.57 L455.60,487.62 L444.20,487.62 L443.25,487.62 L443.25,485.63 L441.35,485.63 L441.35,483.65 L439.45,483.65 L439.45,481.66 L438.50,481.66 L437.62,481.66 L437.62,479.78 L435.88,479.78 L435.88,477.90 L435.00,477.90 L426.30,477.90 L426.30,476.55 L417.60,476.55 L417.23,476.55 L417.23,475.09 L416.48,475.09 L416.48,473.63 L416.10,473.63 L416.10,473.48 L405.90,473.48 L405.17,473.48 L405.17,472.36 L403.73,472.36 L403.73,471.24 L403.00,471.24 L397.85,471.24 L397.85,469.54 L392.70,469.54 L391.98,469.54 L391.98,467.99 L390.52,467.99 L390.52,466.44 L389.80,466.44 L386.90,466.44 L386.90,464.83 L384.00,464.83 L382.90,464.83 L382.90,463.65 L380.70,463.65 L380.70,462.47 L379.60,462.47 L378.88,462.47 L378.88,460.97 L377.43,460.97 L377.43,459.47 L376.70,459.47 L373.75,459.47 L373.75,457.80 L370.80,457.80 L370.10,457.80 L370.10,456.05 L368.70,456.05 L368.70,454.30 L368.00,454.30 L365.90,454.30 L365.90,452.60 L363.80,452.60 L363.23,452.60 L363.23,450.65 L362.07,450.65 L362.07,448.70 L361.50,448.70 L360.95,448.70 L360.95,447.49 L359.85,447.49 L359.85,446.28 L359.30,446.28 L355.95,446.28 L355.95,445.80 L352.60,445.80 L352.05,445.80 L352.05,444.12 L351.50,444.12 L350.93,444.12 L350.93,442.74 L349.80,442.74 L349.80,441.36 L348.67,441.36 L348.67,439.98 L348.10,439.98 L347.28,439.98 L347.28,438.91 L345.62,438.91 L345.62,437.83 L344.80,437.83 L343.68,437.83 L343.68,436.61 L341.43,436.61 L341.43,435.38 L340.30,435.38 L339.20,435.38 L339.20,434.17 L337.00,434.17 L337.00,432.95 L335.90,432.95 L335.33,432.95 L335.33,431.54 L334.20,431.54 L334.20,430.13 L333.07,430.13 L333.07,428.73 L332.50,428.73 L332.32,428.73 L332.32,427.35 L331.95,427.35 L331.95,425.98 L331.58,425.98 L331.58,424.60 L331.40,424.60 L330.70,424.60 L330.70,423.00 L329.30,423.00 L329.30,421.40 L328.60,421.40 L325.55,421.40 L325.55,420.00 L322.50,420.00Z" fill="#6464b4" fill-opacity="0.25" stroke="none"/>
<path d="M322.50,420.00 L324.15,420.00 L324.15,421.40 L325.80,421.40 L326.35,421.40 L326.35,422.55 L327.45,422.55 L327.45,423.70 L328.00,423.70 L328.30,423.70 L328.30,425.61 L328.90,425.61 L328.90,427.53 L329.20,427.53 L330.30,427.53 L330.30,429.50 L331.40,429.50 L332.80,429.50 L332.80,428.45 L335.60,428.45 L335.60,427.40 L337.00,427.40 L337.55,427.40 L337.55,429.21 L338.65,429.21 L338.65,431.01 L339.20,431.01 L340.90,431.01 L340.90,432.27 L342.60,432.27 L345.35,432.27 L345.35,433.25 L348.10,433.25 L348.95,433.25 L348.95,434.43 L350.65,434.43 L350.65,435.61 L351.50,435.61 L353.75,435.61 L353.75,436.62 L356.00,436.62 L357.65,436.62 L357.65,438.49 L359.30,438.49 L360.12,438.49 L360.12,440.04 L361.78,440.04 L361.78,441.60 L362.60,441.60 L363.20,441.60 L363.20,442.95 L364.40,442.95 L364.40,444.30 L365.00,444.30 L365.73,444.30 L365.73,445.67 L367.20,445.67 L367.20,447.05 L368.67,447.05 L368.67,448.42 L369.40,448.42 L371.22,448.42 L371.22,449.78 L374.88,449.78 L374.88,451.13 L376.70,451.13 L377.77,451.13 L377.77,452.50 L379.93,452.50 L379.93,453.86 L381.00,453.86 L381.50,453.86 L381.50,455.52 L382.50,455.52 L382.50,457.18 L383.50,457.18 L383.50,458.84 L384.00,458.84 L387.65,458.84 L387.65,460.75 L391.30,460.75 L393.12,460.75 L393.12,462.40 L396.78,462.40 L396.78,464.06 L398.60,464.06 L402.95,464.06 L402.95,465.21 L407.30,465.21 L421.15,465.21 L421.15,466.61 L435.00,466.61 L439.50,466.61 L439.50,467.06 L444.00,467.06 L456.00,467.06 L456.00,467.38 L468.00,467.38 L468.82,467.38 L468.82,468.65 L470.48,468.65 L470.48,469.91 L471.30,469.91 L497.00,469.91 L497.00,469.72 L497.00,493.70 L484.15,493.70 L484.15,493.40 L471.30,493.40 L470.48,493.40 L470.48,492.10 L468.82,492.10 L468.82,490.80 L468.00,490.80 L456.00,490.80 L456.00,489.94 L444.00,489.94 L439.50,489.94 L439.50,488.99 L435.00,488.99 L428.07,488.99 L428.07,487.55 L414.23,487.55 L414.23,486.10 L407.30,486.10 L402.95,486.10 L402.95,484.60 L398.60,484.60 L396.78,484.60 L396.78,482.80 L393.12,482.80 L393.12,481.00 L391.30,481.00 L389.48,481.00 L389.48,479.90 L385.82,479.90 L385.82,478.80 L384.00,478.80 L383.50,478.80 L383.50,477.10 L382.50,477.10 L382.50,475.40 L381.50,475.40 L381.50,473.70 L381.00,473.70 L379.93,473.70 L379.93,472.25 L377.77,472.25 L377.77,470.80 L376.70,470.80 L374.88,470.80 L374.88,469.30 L371.22,469.30 L371.22,467.80 L369.40,467.80 L368.67,467.80 L368.67,466.37 L367.20,466.37 L367.20,464.93 L365.73,464.93 L365.73,463.50 L365.00,463.50 L364.40,463.50 L364.40,462.10 L363.20,462.10 L363.20,460.70 L362.60,460.70 L361.78,460.70 L361.78,459.00 L360.12,459.00 L360.12,457.31 L359.30,457.31 L358.48,457.31 L358.48,455.94 L356.82,455.94 L356.82,454.58 L356.00,454.58 L354.88,454.58 L354.88,453.48 L352.62,453.48 L352.62,452.39 L351.50,452.39 L350.65,452.39 L350.65,450.77 L348.95,450.77 L348.95,449.15 L348.10,449.15 L346.73,449.15 L346.73,447.94 L343.98,447.94 L343.98,446.73 L342.60,446.73 L341.75,446.73 L341.75,445.66 L340.05,445.66 L340.05,444.59 L339.20,444.59 L338.83,444.59 L338.83,443.19 L338.10,443.19 L338.10,441.80 L337.37,441.80 L337.37,440.40 L337.00,440.40 L335.60,440.40 L335.60,439.35 L332.80,439.35 L332.80,438.30 L331.40,438.30 L330.85,438.30 L330.85,436.49 L329.75,436.49 L329.75,434.68 L329.20,434.68 L329.00,434.68 L329.00,432.96 L328.60,432.96 L328.60,431.25 L328.20,431.25 L328.20,429.53 L328.00,429.53 L327.63,429.53 L327.63,427.91 L326.90,427.91 L326.90,426.29 L326.17,426.29 L326.17,424.67 L325.80,424.67 L325.25,424.67 L325.25,423.11 L324.15,423.11 L324.15,421.56 L323.05,421.56 L323.05,420.00 L322.50,420.00Z" fill="#e8786e" fill-opacity="0.33" stroke="none"/>
<path d="M322.50,420.00 L322.77,420.00 L322.77,421.60 L323.33,421.60 L323.33,423.20 L323.60,423.20 L324.70,423.20 L324.70,424.70 L325.80,424.70 L326.17,424.70 L326.17,426.70 L326.90,426.70 L326.90,428.70 L327.63,428.70 L327.63,430.70 L328.00,430.70 L328.20,430.70 L328.20,432.33 L328.60,432.33 L328.60,433.95 L329.00,433.95 L329.00,435.58 L329.20,435.58 L330.85,435.58 L330.85,437.49 L332.50,437.49 L334.45,437.49 L334.45,436.75 L336.40,436.75 L337.10,436.75 L337.10,438.07 L338.50,438.07 L338.50,439.40 L339.20,439.40 L339.57,439.40 L339.57,441.05 L340.30,441.05 L340.30,442.71 L341.03,442.71 L341.03,444.36 L341.40,444.36 L341.97,444.36 L341.97,445.94 L343.12,445.94 L343.12,447.53 L343.70,447.53 L349.20,447.53 L349.20,447.48 L349.77,447.48 L349.77,448.92 L350.93,448.92 L350.93,450.37 L351.50,450.37 L358.25,450.37 L358.25,451.77 L365.00,451.77 L365.73,451.77 L365.73,453.14 L367.20,453.14 L367.20,454.51 L368.67,454.51 L368.67,455.89 L369.40,455.89 L371.22,455.89 L371.22,457.57 L374.88,457.57 L374.88,459.24 L376.70,459.24 L377.77,459.24 L377.77,460.48 L379.93,460.48 L379.93,461.71 L381.00,461.71 L381.50,461.71 L381.50,463.47 L382.50,463.47 L382.50,465.24 L383.50,465.24 L383.50,467.00 L384.00,467.00 L394.95,467.00 L394.95,468.54 L405.90,468.54 L406.25,468.54 L406.25,470.07 L406.95,470.07 L406.95,471.60 L407.30,471.60 L418.25,471.60 L418.25,472.21 L429.20,472.21 L429.57,472.21 L429.57,474.02 L430.32,474.02 L430.32,475.84 L430.70,475.84 L432.65,475.84 L432.65,477.30 L436.55,477.30 L436.55,478.75 L438.50,478.75 L442.75,478.75 L442.75,480.47 L447.00,480.47 L447.38,480.47 L447.38,482.14 L448.12,482.14 L448.12,483.80 L448.50,483.80 L476.20,483.80 L476.20,483.80 L476.40,483.80 L476.40,485.55 L476.80,485.55 L476.80,487.30 L477.00,487.30 L494.00,487.30 L494.00,487.30 L494.00,505.30 L485.50,505.30 L485.50,505.67 L477.00,505.67 L476.80,505.67 L476.80,503.93 L476.40,503.93 L476.40,502.19 L476.20,502.19 L462.35,502.19 L462.35,502.79 L448.50,502.79 L448.12,502.79 L448.12,501.16 L447.38,501.16 L447.38,499.53 L447.00,499.53 L442.75,499.53 L442.75,498.25 L438.50,498.25 L436.55,498.25 L436.55,497.00 L432.65,497.00 L432.65,495.76 L430.70,495.76 L430.32,495.76 L430.32,493.98 L429.57,493.98 L429.57,492.19 L429.20,492.19 L418.25,492.19 L418.25,492.70 L407.30,492.70 L406.95,492.70 L406.95,491.20 L406.25,491.20 L406.25,489.70 L405.90,489.70 L394.95,489.70 L394.95,489.00 L384.00,489.00 L383.50,489.00 L383.50,487.30 L382.50,487.30 L382.50,485.60 L381.50,485.60 L381.50,483.90 L381.00,483.90 L379.93,483.90 L379.93,482.80 L377.77,482.80 L377.77,481.70 L376.70,481.70 L374.88,481.70 L374.88,480.25 L371.22,480.25 L371.22,478.80 L369.40,478.80 L368.30,478.80 L368.30,477.03 L366.10,477.03 L366.10,475.27 L365.00,475.27 L358.25,475.27 L358.25,476.12 L351.50,476.12 L350.93,476.12 L350.93,474.76 L349.77,474.76 L349.77,473.40 L349.20,473.40 L346.45,473.40 L346.45,472.90 L343.70,472.90 L343.12,472.90 L343.12,471.20 L341.97,471.20 L341.97,469.50 L341.40,469.50 L341.03,469.50 L341.03,467.67 L340.30,467.67 L340.30,465.83 L339.57,465.83 L339.57,464.00 L339.20,464.00 L338.73,464.00 L338.73,462.65 L337.80,462.65 L337.80,461.30 L336.87,461.30 L336.87,459.95 L336.40,459.95 L334.45,459.95 L334.45,458.74 L332.50,458.74 L331.95,458.74 L331.95,457.27 L330.85,457.27 L330.85,455.81 L329.75,455.81 L329.75,454.34 L329.20,454.34 L329.00,454.34 L329.00,452.39 L328.60,452.39 L328.60,450.45 L328.20,450.45 L328.20,448.50 L328.00,448.50 L327.78,448.50 L327.78,446.58 L327.34,446.58 L327.34,444.66 L326.90,444.66 L326.90,442.74 L326.46,442.74 L326.46,440.82 L326.02,440.82 L326.02,438.90 L325.80,438.90 L325.58,438.90 L325.58,436.96 L325.14,436.96 L325.14,435.02 L324.70,435.02 L324.70,433.08 L324.26,433.08 L324.26,431.14 L323.82,431.14 L323.82,429.20 L323.60,429.20 L323.49,429.20 L323.49,427.36 L323.27,427.36 L323.27,425.52 L323.05,425.52 L323.05,423.68 L322.83,423.68 L322.83,421.84 L322.61,421.84 L322.61,420.00 L322.50,420.00Z" fill="#8cb478" fill-opacity="0.25" stroke="none"/>
<path d="M322.50,420.00 L328.60,420.00 L328.60,420.00 L329.30,420.00 L329.30,421.15 L330.70,421.15 L330.70,422.30 L331.40,422.30 L331.67,422.30 L331.67,423.95 L332.23,423.95 L332.23,425.60 L332.50,425.60 L333.35,425.60 L333.35,426.70 L335.05,426.70 L335.05,427.80 L335.90,427.80 L338.10,427.80 L338.10,429.50 L340.30,429.50 L342.55,429.50 L342.55,431.20 L344.80,431.20 L346.45,431.20 L346.45,432.90 L348.10,432.90 L348.95,432.90 L348.95,434.85 L350.65,434.85 L350.65,436.80 L351.50,436.80 L352.05,436.80 L352.05,438.40 L352.60,438.40 L359.30,438.40 L359.30,438.40 L359.85,438.40 L359.85,439.55 L360.95,439.55 L360.95,440.70 L361.50,440.70 L362.07,440.70 L362.07,442.65 L363.23,442.65 L363.23,444.60 L363.80,444.60 L365.90,444.60 L365.90,446.30 L368.00,446.30 L368.70,446.30 L368.70,448.05 L370.10,448.05 L370.10,449.80 L370.80,449.80 L373.75,449.80 L373.75,451.30 L376.70,451.30 L377.43,451.30 L377.43,452.75 L378.88,452.75 L378.88,454.20 L379.60,454.20 L380.70,454.20 L380.70,455.30 L382.90,455.30 L382.90,456.40 L384.00,456.40 L386.90,456.40 L386.90,457.80 L389.80,457.80 L390.52,457.80 L390.52,459.30 L391.98,459.30 L391.98,460.80 L392.70,460.80 L397.85,460.80 L397.85,462.20 L403.00,462.20 L403.73,462.20 L403.73,463.30 L405.17,463.30 L405.17,464.40 L405.90,464.40 L416.10,464.40 L416.10,464.40 L416.48,464.40 L416.48,465.85 L417.23,465.85 L417.23,467.30 L417.60,467.30 L426.30,467.30 L426.30,468.40 L435.00,468.40 L435.88,468.40 L435.88,470.20 L437.62,470.20 L437.62,472.00 L438.50,472.00 L439.45,472.00 L439.45,473.90 L441.35,473.90 L441.35,475.80 L443.25,475.80 L443.25,477.70 L444.20,477.70 L467.00,477.70 L467.00,477.70 L467.54,477.70 L467.54,479.27 L468.61,479.27 L468.61,480.85 L469.69,480.85 L469.69,482.43 L470.76,482.43 L470.76,484.00 L471.30,484.00 L484.45,484.00 L484.45,484.80 L497.60,484.80" fill="none" stroke="#1f3766" stroke-width="1.3" stroke-linejoin="miter"/>
<path d="M322.50,420.00 L323.32,420.00 L323.32,421.40 L324.98,421.40 L324.98,422.80 L325.80,422.80 L326.35,422.80 L326.35,424.50 L327.45,424.50 L327.45,426.20 L328.00,426.20 L328.20,426.20 L328.20,427.67 L328.60,427.67 L328.60,429.13 L329.00,429.13 L329.00,430.60 L329.20,430.60 L329.75,430.60 L329.75,432.00 L330.85,432.00 L330.85,433.40 L331.40,433.40 L337.00,433.40 L337.00,433.40 L337.55,433.40 L337.55,435.35 L338.65,435.35 L338.65,437.30 L339.20,437.30 L340.90,437.30 L340.90,439.00 L342.60,439.00 L345.35,439.00 L345.35,440.70 L348.10,440.70 L348.95,440.70 L348.95,442.10 L350.65,442.10 L350.65,443.50 L351.50,443.50 L353.75,443.50 L353.75,445.10 L356.00,445.10 L356.82,445.10 L356.82,446.25 L358.48,446.25 L358.48,447.40 L359.30,447.40 L360.12,447.40 L360.12,449.05 L361.78,449.05 L361.78,450.70 L362.60,450.70 L363.20,450.70 L363.20,452.10 L364.40,452.10 L364.40,453.50 L365.00,453.50 L365.73,453.50 L365.73,454.93 L367.20,454.93 L367.20,456.37 L368.67,456.37 L368.67,457.80 L369.40,457.80 L371.22,457.80 L371.22,459.30 L374.88,459.30 L374.88,460.80 L376.70,460.80 L377.77,460.80 L377.77,462.25 L379.93,462.25 L379.93,463.70 L381.00,463.70 L381.50,463.70 L381.50,465.40 L382.50,465.40 L382.50,467.10 L383.50,467.10 L383.50,468.80 L384.00,468.80 L385.82,468.80 L385.82,469.90 L389.48,469.90 L389.48,471.00 L391.30,471.00 L393.12,471.00 L393.12,472.80 L396.78,472.80 L396.78,474.60 L398.60,474.60 L402.95,474.60 L402.95,476.10 L407.30,476.10 L414.23,476.10 L414.23,477.20 L428.07,477.20 L428.07,478.30 L435.00,478.30 L439.50,478.30 L439.50,479.00 L444.00,479.00 L456.00,479.00 L456.00,479.80 L468.00,479.80 L468.82,479.80 L468.82,481.10 L470.48,481.10 L470.48,482.40 L471.30,482.40 L484.15,482.40 L484.15,482.70 L497.00,482.70" fill="none" stroke="#961d36" stroke-width="1.5" stroke-dasharray="2.8,1.9" stroke-linejoin="miter"/>
<path d="M322.50,420.00 L322.68,420.00 L322.68,421.67 L323.05,421.67 L323.05,423.33 L323.42,423.33 L323.42,425.00 L323.60,425.00 L323.97,425.00 L323.97,426.50 L324.70,426.50 L324.70,428.00 L325.43,428.00 L325.43,429.50 L325.80,429.50 L326.07,429.50 L326.07,431.45 L326.62,431.45 L326.62,433.40 L327.18,433.40 L327.18,435.35 L327.73,435.35 L327.73,437.30 L328.00,437.30 L328.20,437.30 L328.20,439.17 L328.60,439.17 L328.60,441.03 L329.00,441.03 L329.00,442.90 L329.20,442.90 L330.02,442.90 L330.02,444.85 L331.68,444.85 L331.68,446.80 L332.50,446.80 L334.45,446.80 L334.45,448.50 L336.40,448.50 L336.87,448.50 L336.87,449.97 L337.80,449.97 L337.80,451.43 L338.73,451.43 L338.73,452.90 L339.20,452.90 L339.57,452.90 L339.57,454.77 L340.30,454.77 L340.30,456.63 L341.03,456.63 L341.03,458.50 L341.40,458.50 L341.97,458.50 L341.97,460.20 L343.12,460.20 L343.12,461.90 L343.70,461.90 L346.45,461.90 L346.45,462.40 L349.20,462.40 L349.77,462.40 L349.77,463.80 L350.93,463.80 L350.93,465.20 L351.50,465.20 L365.00,465.20 L365.00,465.10 L366.10,465.10 L366.10,466.95 L368.30,466.95 L368.30,468.80 L369.40,468.80 L371.22,468.80 L371.22,470.25 L374.88,470.25 L374.88,471.70 L376.70,471.70 L377.77,471.70 L377.77,472.80 L379.93,472.80 L379.93,473.90 L381.00,473.90 L381.50,473.90 L381.50,475.60 L382.50,475.60 L382.50,477.30 L383.50,477.30 L383.50,479.00 L384.00,479.00 L394.95,479.00 L394.95,479.70 L405.90,479.70 L406.25,479.70 L406.25,481.20 L406.95,481.20 L406.95,482.70 L407.30,482.70 L429.20,482.70 L429.20,482.70 L429.57,482.70 L429.57,484.50 L430.32,484.50 L430.32,486.30 L430.70,486.30 L432.65,486.30 L432.65,487.65 L436.55,487.65 L436.55,489.00 L438.50,489.00 L442.75,489.00 L442.75,490.50 L447.00,490.50 L447.38,490.50 L447.38,492.15 L448.12,492.15 L448.12,493.80 L448.50,493.80 L476.20,493.80 L476.20,493.80 L476.40,493.80 L476.40,495.55 L476.80,495.55 L476.80,497.30 L477.00,497.30 L494.00,497.30 L494.00,497.30" fill="none" stroke="#3f904a" stroke-width="1.5" stroke-dasharray="2.6,2.4" stroke-linejoin="miter"/>
<line x1="495.00" y1="482.40" x2="495.00" y2="485.60" stroke="#1f3766" stroke-width="1.1"/>
<line x1="493.80" y1="484.00" x2="496.20" y2="484.00" stroke="#1f3766" stroke-width="1.1"/>
<line x1="497.30" y1="482.40" x2="497.30" y2="485.60" stroke="#1f3766" stroke-width="1.1"/>
<line x1="496.10" y1="484.00" x2="498.50" y2="484.00" stroke="#1f3766" stroke-width="1.1"/>
<line x1="493.50" y1="480.70" x2="493.50" y2="484.70" stroke="#961d36" stroke-width="1.1"/>
<line x1="492.30" y1="482.70" x2="494.70" y2="482.70" stroke="#961d36" stroke-width="1.1"/>
<line x1="496.50" y1="480.70" x2="496.50" y2="484.70" stroke="#961d36" stroke-width="1.1"/>
<line x1="495.30" y1="482.70" x2="497.70" y2="482.70" stroke="#961d36" stroke-width="1.1"/>
<line x1="313.50" y1="415.00" x2="313.50" y2="516.60" stroke="#222" stroke-width="1.3"/>
<line x1="312.90" y1="516.00" x2="513.50" y2="516.00" stroke="#222" stroke-width="1.3"/>
<line x1="310.50" y1="420.40" x2="313.50" y2="420.40" stroke="#222" stroke-width="1.0"/>
<text x="308.30" y="422.60" font-size="6.6" text-anchor="end" fill="#333" stroke="#333" stroke-width="0.08">1.00</text>
<line x1="310.50" y1="443.30" x2="313.50" y2="443.30" stroke="#222" stroke-width="1.0"/>
<text x="308.30" y="445.50" font-size="6.6" text-anchor="end" fill="#333" stroke="#333" stroke-width="0.08">0.75</text>
<line x1="310.50" y1="466.20" x2="313.50" y2="466.20" stroke="#222" stroke-width="1.0"/>
<text x="308.30" y="468.40" font-size="6.6" text-anchor="end" fill="#333" stroke="#333" stroke-width="0.08">0.50</text>
<line x1="310.50" y1="489.10" x2="313.50" y2="489.10" stroke="#222" stroke-width="1.0"/>
<text x="308.30" y="491.30" font-size="6.6" text-anchor="end" fill="#333" stroke="#333" stroke-width="0.08">0.25</text>
<line x1="310.50" y1="512.00" x2="313.50" y2="512.00" stroke="#222" stroke-width="1.0"/>
<text x="308.30" y="514.20" font-size="6.6" text-anchor="end" fill="#333" stroke="#333" stroke-width="0.08">0.00</text>
<line x1="322.60" y1="516.00" x2="322.60" y2="519.00" stroke="#222" stroke-width="1.0"/>
<text x="322.60" y="526.70" font-size="6.6" text-anchor="middle" fill="#333" stroke="#333" stroke-width="0.08">0</text>
<line x1="354.79" y1="516.00" x2="354.79" y2="519.00" stroke="#222" stroke-width="1.0"/>
<text x="354.79" y="526.70" font-size="6.6" text-anchor="middle" fill="#333" stroke="#333" stroke-width="0.08">3</text>
<line x1="386.98" y1="516.00" x2="386.98" y2="519.00" stroke="#222" stroke-width="1.0"/>
<text x="386.98" y="526.70" font-size="6.6" text-anchor="middle" fill="#333" stroke="#333" stroke-width="0.08">6</text>
<line x1="419.17" y1="516.00" x2="419.17" y2="519.00" stroke="#222" stroke-width="1.0"/>
<text x="419.17" y="526.70" font-size="6.6" text-anchor="middle" fill="#333" stroke="#333" stroke-width="0.08">9</text>
<line x1="451.36" y1="516.00" x2="451.36" y2="519.00" stroke="#222" stroke-width="1.0"/>
<text x="451.36" y="526.70" font-size="6.6" text-anchor="middle" fill="#333" stroke="#333" stroke-width="0.08">12</text>
<line x1="483.55" y1="516.00" x2="483.55" y2="519.00" stroke="#222" stroke-width="1.0"/>
<text x="483.55" y="526.70" font-size="6.6" text-anchor="middle" fill="#333" stroke="#333" stroke-width="0.08">15</text>
<text x="292.60" y="465.40" font-size="8.3" text-anchor="middle" fill="#1a1a1a" stroke="#1a1a1a" stroke-width="0.2" textLength="27.5" lengthAdjust="spacingAndGlyphs" transform="rotate(-90 292.60 465.40)">Probability</text>
<text x="413.70" y="536.20" font-size="9.2" text-anchor="middle" fill="#1a1a1a" stroke="#1a1a1a" stroke-width="0.3" textLength="32" lengthAdjust="spacingAndGlyphs">Time (years)</text>
<text x="326.00" y="487.20" font-size="6.6" text-anchor="start" fill="#2a2a2a" stroke="#2a2a2a" stroke-width="0.18" textLength="22.8" lengthAdjust="spacingAndGlyphs">Log-rank</text>
<text x="326.00" y="494.40" font-size="6.6" text-anchor="start" fill="#2a2a2a" stroke="#2a2a2a" stroke-width="0.18" textLength="24.3" lengthAdjust="spacingAndGlyphs"><tspan font-style="italic">P</tspan> = .058</text>
<text x="313.75" y="546.50" font-size="6.6" text-anchor="start" fill="#2a2a2a" stroke="#2a2a2a" stroke-width="0.18" textLength="38.5" lengthAdjust="spacingAndGlyphs">Number at risk</text>
<text x="322.60" y="556.00" font-size="6.6" text-anchor="middle" fill="#222" stroke="#222" stroke-width="0.15">72</text>
<text x="354.79" y="556.00" font-size="6.6" text-anchor="middle" fill="#222" stroke="#222" stroke-width="0.15">54</text>
<text x="386.98" y="556.00" font-size="6.6" text-anchor="middle" fill="#222" stroke="#222" stroke-width="0.15">39</text>
<text x="419.17" y="556.00" font-size="6.6" text-anchor="middle" fill="#222" stroke="#222" stroke-width="0.15">30</text>
<text x="451.36" y="556.00" font-size="6.6" text-anchor="middle" fill="#222" stroke="#222" stroke-width="0.15">21</text>
<text x="483.55" y="556.00" font-size="6.6" text-anchor="middle" fill="#222" stroke="#222" stroke-width="0.15">15</text>
<text x="322.60" y="566.00" font-size="6.6" text-anchor="middle" fill="#222" stroke="#222" stroke-width="0.15">73</text>
<text x="354.79" y="566.00" font-size="6.6" text-anchor="middle" fill="#222" stroke="#222" stroke-width="0.15">51</text>
<text x="386.98" y="566.00" font-size="6.6" text-anchor="middle" fill="#222" stroke="#222" stroke-width="0.15">31</text>
<text x="419.17" y="566.00" font-size="6.6" text-anchor="middle" fill="#222" stroke="#222" stroke-width="0.15">26</text>
<text x="451.36" y="566.00" font-size="6.6" text-anchor="middle" fill="#222" stroke="#222" stroke-width="0.15">23</text>
<text x="483.55" y="566.00" font-size="6.6" text-anchor="middle" fill="#222" stroke="#222" stroke-width="0.15">16</text>
<text x="322.60" y="576.00" font-size="6.6" text-anchor="middle" fill="#222" stroke="#222" stroke-width="0.15">28</text>
<text x="354.79" y="576.00" font-size="6.6" text-anchor="middle" fill="#222" stroke="#222" stroke-width="0.15">14</text>
<text x="386.98" y="576.00" font-size="6.6" text-anchor="middle" fill="#222" stroke="#222" stroke-width="0.15">9</text>
<text x="419.17" y="576.00" font-size="6.6" text-anchor="middle" fill="#222" stroke="#222" stroke-width="0.15">8</text>
<text x="451.36" y="576.00" font-size="6.6" text-anchor="middle" fill="#222" stroke="#222" stroke-width="0.15">5</text>
<text x="483.55" y="576.00" font-size="6.6" text-anchor="middle" fill="#222" stroke="#222" stroke-width="0.15">4</text>
<text x="308.75" y="556.00" font-size="6.6" text-anchor="end" fill="#416ca8" stroke="#416ca8" stroke-width="0.08" textLength="31.5" lengthAdjust="spacingAndGlyphs">ISS-Stage I</text>
<text x="308.75" y="566.00" font-size="6.6" text-anchor="end" fill="#c83c64" stroke="#c83c64" stroke-width="0.08" textLength="33.5" lengthAdjust="spacingAndGlyphs">ISS-Stage II</text>
<text x="308.75" y="576.00" font-size="6.6" text-anchor="end" fill="#5cae64" stroke="#5cae64" stroke-width="0.08" textLength="35.5" lengthAdjust="spacingAndGlyphs">ISS-Stage III</text>
</svg><div class="frame"></div></div></body></html>
